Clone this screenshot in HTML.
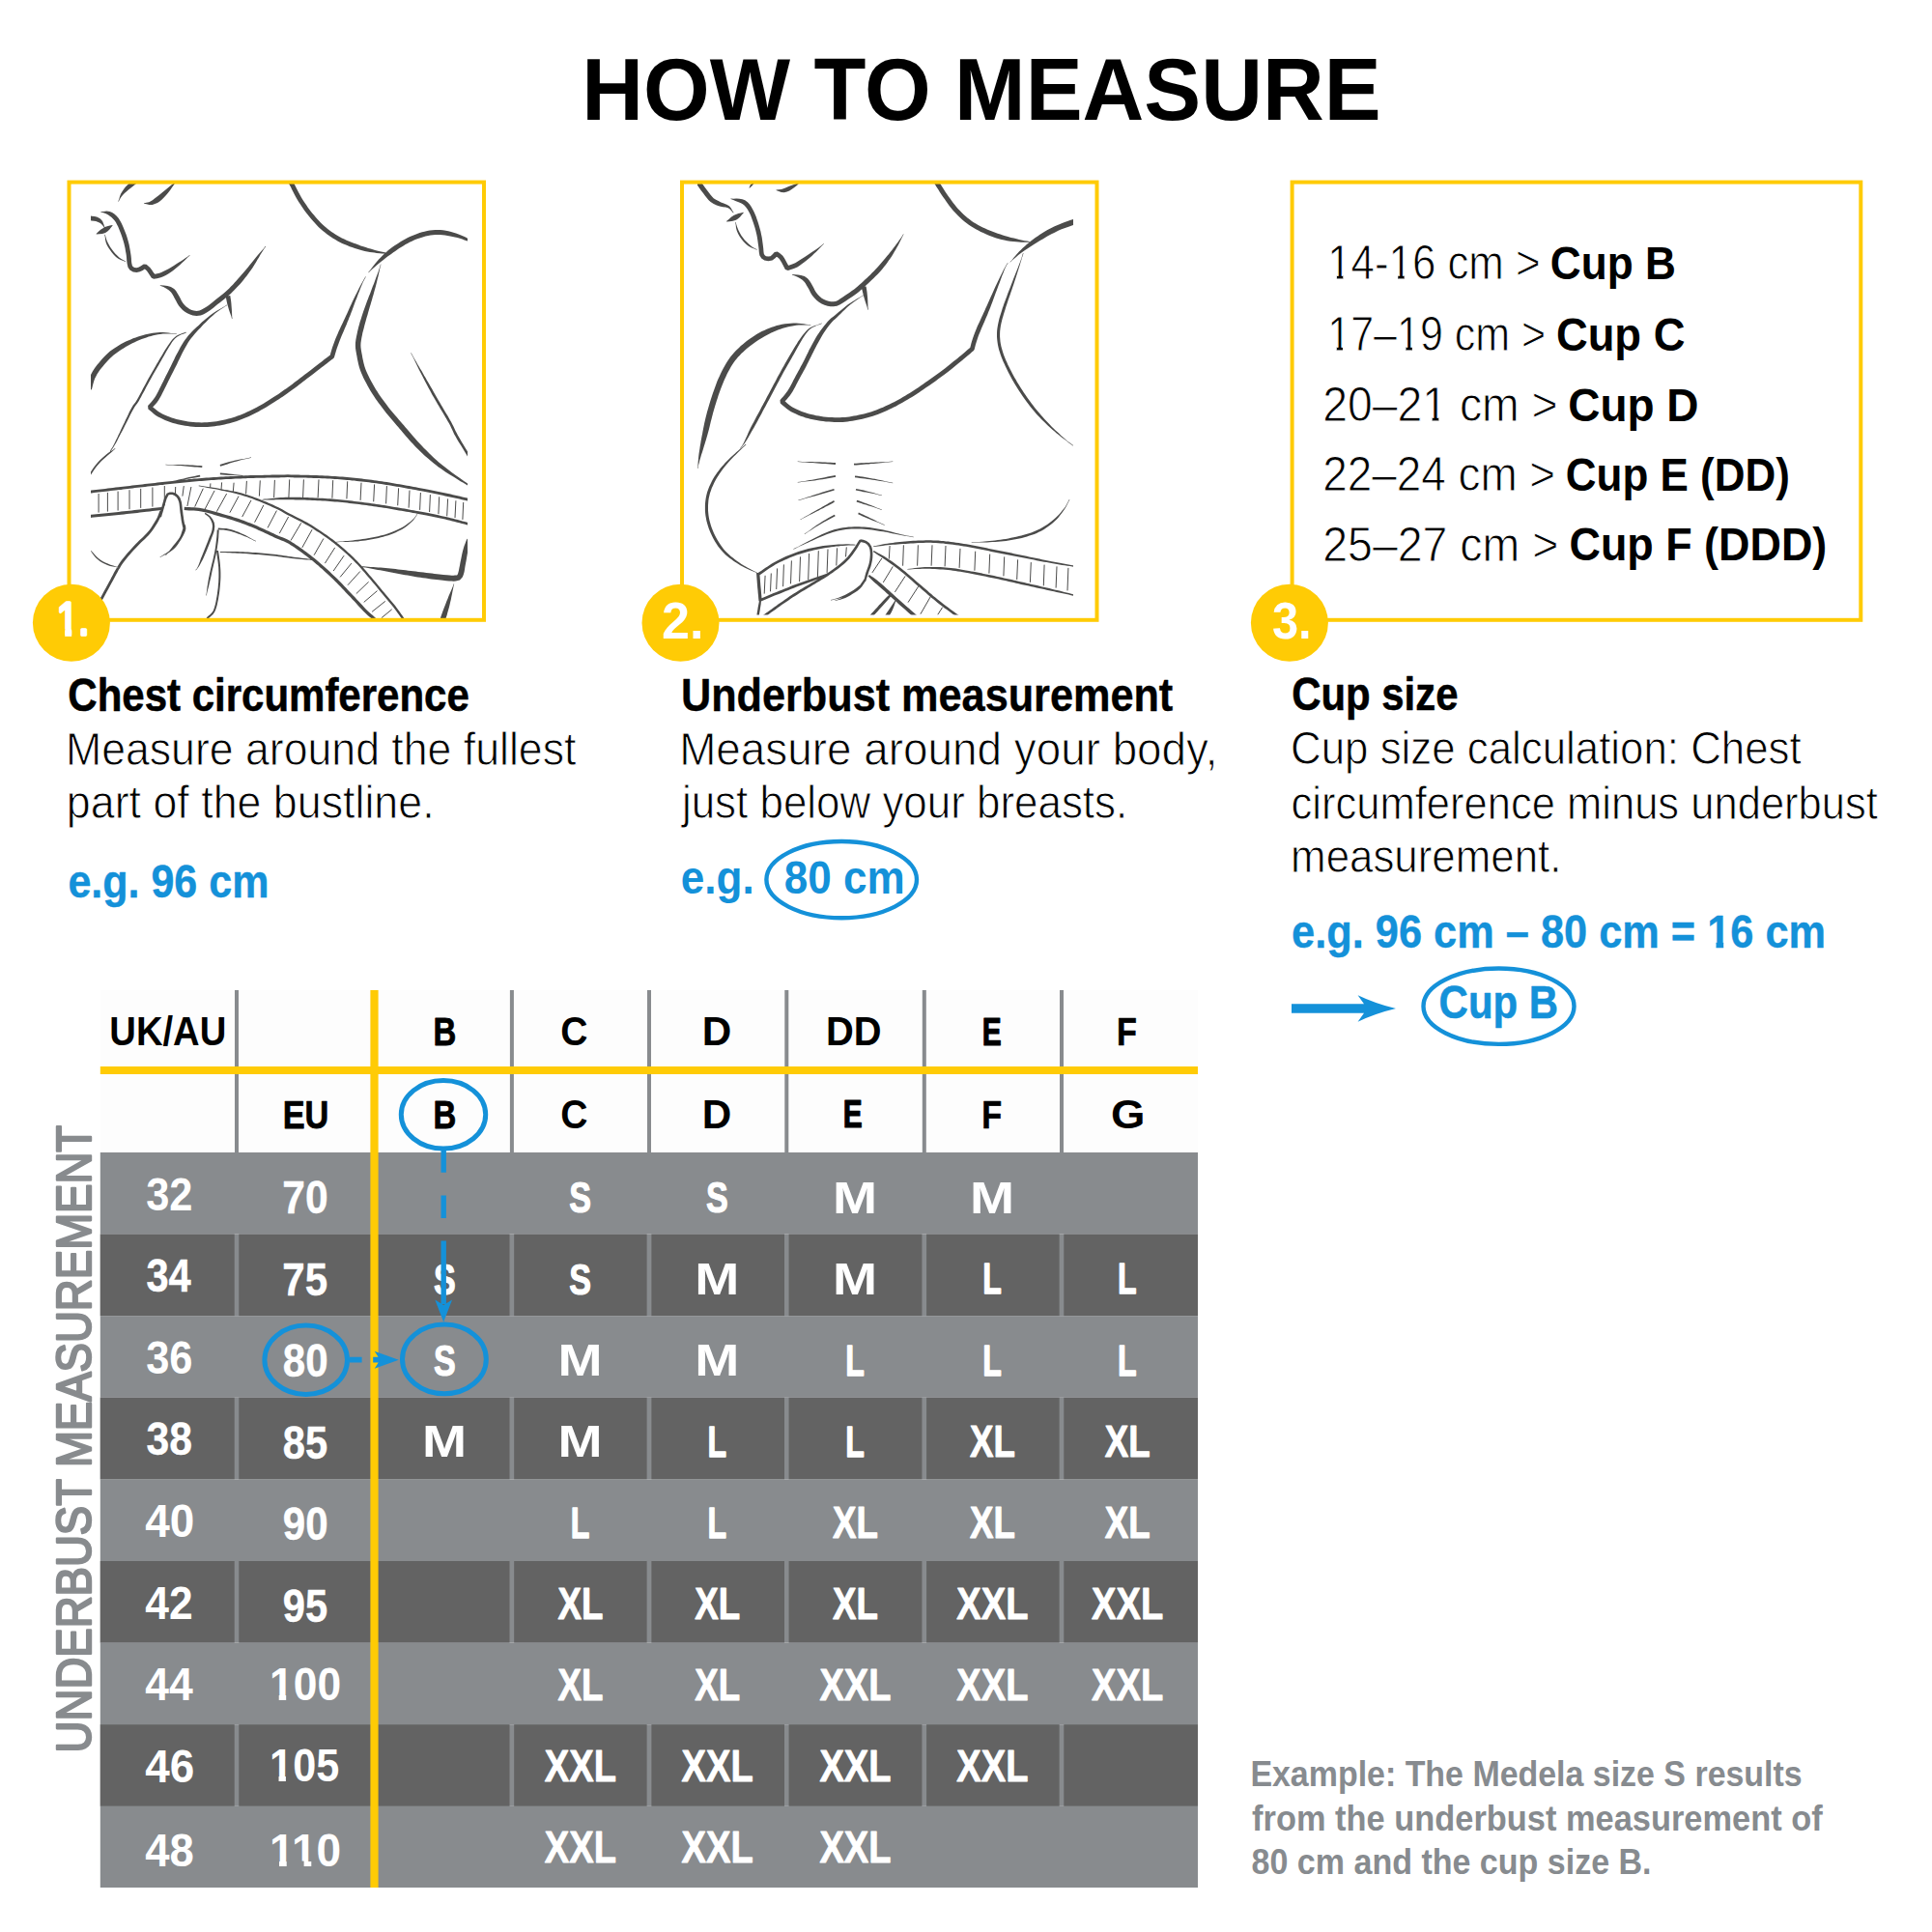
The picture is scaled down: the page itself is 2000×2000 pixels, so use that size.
<!DOCTYPE html>
<html lang="en"><head><meta charset="utf-8"><title>How to measure</title>
<style>
html,body{margin:0;padding:0;background:#fff}
body{width:2000px;height:2000px;overflow:hidden}
svg{display:block}
text{font-family:"Liberation Sans",sans-serif}
</style></head><body>
<svg width="2000" height="2000" viewBox="0 0 2000 2000">
<rect width="2000" height="2000" fill="#fff"/>
<text x="602.26" y="124" font-size="91.5" font-weight="700" fill="#000" textLength="827.4" lengthAdjust="spacingAndGlyphs">HOW TO MEASURE</text>
<clipPath id="c1"><rect x="94" y="190" width="390" height="451"/></clipPath>
<g clip-path="url(#c1)">
<path fill="#4b4b4a" d="M122.8 208.7l1.2 -2.4l1.4 -2.2l1.6 -2l1.9 -2l2.1 -1.9l1.9 -1.7l2.6 -2l2.5 -1.9l2.2 -1.8l2.1 -1.7l-3.2 -3.9l-2.1 1.7l-2.2 1.9l-2.3 2.1l-2.6 2.6l-1.7 2.2l-1.7 2.5l-1.5 2.6l-1 2.6l-.7 2.6l-1 2.5zM149 210.7l2.7 .5l2.8 .7l3.2 0l2.7 -.8l2.6 -1.2l2.3 -1.5l2.1 -1.7l2.5 -2.4l2.3 -2.5l2.1 -2.6l2.1 -2.7l2 -2.9l1.7 -2.4l2.9 -3.9l-.3 -.3l-3.7 3.2l-2.2 1.9l-2.7 2.2l-2.7 2.2l-2.5 2l-2.4 2l-2.5 1.9l-2 1.5l-2 1.6l-1.8 1.4l-1.6 1.2l-2.3 1.1l-2.6 .6l-2.7 .4zM91.9 228.1l2.7 .3l2.6 .3l2 .3l2.5 .9l2.2 1.1l2.1 2l1.9 2.5l.5 -.2l-1 -3.1l-1.3 -3.2l-2.2 -2.5l-3.1 -1.8l-2.8 -.7l-2.9 -.3l-2.7 -.3zM99.8 242.4l3.1 -.2l3.1 -.2l3.1 -1l2.2 -1.4l1.9 -1.9l1.7 -2.2l1.7 -2.1l-.3 -.5l-2.6 .7l-2.7 .6l-2.4 .9l-2 1.1l-2.4 1.6l-2.3 2l-2.3 2.1zM108.3 242.9l.5 2.9l.3 2.9l.8 3.1l1.1 2.4l1.5 2.5l1.6 2.4l1.6 2.2l2.1 2.5l2.2 2.2l2.4 1.8l2.5 1.3l2.6 .8l2.4 1l.2 -.4l-2.4 -1.2l-2.2 -1.3l-2.2 -1.5l-2 -1.9l-2.1 -2.1l-2 -2.4l-1.5 -2.1l-1.6 -2.3l-1.4 -2.4l-1.2 -2.2l-1.1 -2.7l-.9 -2.8l-.7 -2.8zM104.3 219.5l2.8 .8l2.7 .9l2.3 1.3l1.7 1.2l1.7 1.4l1.7 1.6l1.6 1.9l1.2 1.7l1.1 2.1l1.1 2.2l1 2.4l1 2.5l1 2.4l.9 2.5l.8 2.5l.8 2.6l.7 2.5l.6 2.6l.6 2.6l.4 2.7l.5 2.5l.3 2.2l.3 3.2l.2 2.8l.4 2.7l.8 3.4l1.9 2.9l3.4 1.8l3.7 .5l3.3 -.7l2.8 -1.3l3.7 -2.5l-2.9 -.2l3.5 3l1.4 2l1.8 2.7l1.8 2.8l2.3 1.1l3.4 -.5l3.8 -1l2.6 -1.1l2.6 -1.3l2.6 -1.5l2.6 -1.6l2.5 -1.8l2.4 -1.9l2.4 -2.1l2.4 -2.1l2 -1.8l2 -1.9l2 -2l2 -2l2.1 -1.7l-.3 -.4l-2.2 1.7l-2.3 1.5l-2.4 1.6l-2.3 1.5l-2.2 1.4l-2.7 1.7l-2.6 1.7l-2.5 1.6l-2.5 1.4l-2.5 1.3l-2.6 1.3l-2.5 1.1l-2 .8l-3.4 .9l-3.1 .5l2.3 1l-1.8 -2.8l-1.8 -2.8l-1.9 -2.6l-3.7 -3.2l-2.9 -.2l-3.5 2.3l-1.9 .9l-1.9 .5l-2.2 -.3l-1.6 -.8l-.7 -1.2l-.6 -2.5l-.3 -2.2l-.1 -2.8l-.4 -3.4l-.4 -2.4l-.4 -2.5l-.5 -2.8l-.5 -2.7l-.7 -2.8l-.7 -2.6l-.8 -2.7l-.9 -2.7l-1 -2.6l-1 -2.5l-1 -2.5l-1.1 -2.5l-1.2 -2.5l-1.3 -2.3l-1.4 -2.2l-2 -2.3l-2.2 -1.9l-2.3 -1.5l-2.5 -1l-3.3 -.5l-3.1 .4l-2.9 .1zM165.7 295.7l3.5 1.4l3.1 1.7l2.6 1.7l2.1 2l1.1 1.5l1.2 2.1l1.3 2.3l1.4 2.5l1.4 2.8l1.7 2.8l1.9 2.3l2.1 2.2l2.3 1.8l2.5 1.5l2.8 1.3l2.8 .9l4 .5l4.3 -.5l3.2 -1.3l3 -1.8l3.1 -2l2 -1.4l2 -1.6l2 -1.6l2.1 -1.7l2.1 -1.7l2.2 -1.7l2.2 -1.7l2.4 -1.9l2.4 -2l2.4 -2.1l1.9 -1.9l2 -2l1.9 -2l1.9 -2.1l2 -2.1l1.9 -2.2l1.6 -2l1.7 -2.1l1.7 -2.2l1.6 -2.2l1.6 -2.1l1.5 -2.2l1.4 -2l1.8 -2.8l1.6 -2.7l1.5 -2.6l1.5 -2.4l1.3 -2.3l1.6 -2.5l1.4 -2.3l1.3 -2.1l1.6 -2l-.4 -.4l-1.6 2.1l-1.6 1.9l-1.8 2l-2 2.2l-1.7 2.1l-1.8 2.2l-1.8 2.3l-2 2.5l-2.1 2.4l-1.5 1.9l-1.7 2l-1.7 2l-1.7 2l-1.8 2.1l-1.7 1.9l-1.6 1.9l-1.9 2.2l-1.9 2.1l-1.9 2.1l-1.9 1.9l-1.8 1.9l-1.9 1.8l-2.2 2l-2.3 1.9l-2.3 1.8l-2.2 1.7l-2.3 1.7l-2.1 1.8l-2.1 1.7l-1.9 1.6l-1.9 1.4l-1.8 1.3l-2.9 1.9l-2.7 1.5l-2.2 .9l-3 .5l-3 -.5l-2 -.6l-2.2 -1l-2 -1.3l-1.8 -1.4l-1.7 -1.7l-1.6 -2l-1.4 -2.2l-1.3 -2.7l-1.4 -2.7l-1.5 -2.4l-1.5 -2.4l-1.9 -2.1l-3.3 -2l-3.5 -1l-3.8 -.4l-3.8 -.4zM233.7 306.8l.5 2.6l.5 2.6l.6 2.7l.8 2.8l.7 2.4l.8 2.5l.9 2.5l.9 2.6l.6 2.5l.5 0l-.3 -2.7l-.1 -2.7l-.1 -2.7l-.2 -2.6l-.2 -2.5l-.2 -2.8l-.3 -2.7l-.4 -2.6l-.4 -2.7zM234.9 315.5l-2.2 1.4l-2.1 1.3l-2.2 1.3l-2.2 1.2l-2.2 1.4l-2.3 1.4l-2.2 1.6l-2 1.5l-2.1 1.7l-2.2 1.7l-2.1 1.8l-2.1 1.8l-2 1.8l-1.8 1.8l-1.8 1.6l-2.4 2.3l-2.3 2.2l-2 2.1l-1.9 2.2l-1.8 2.3l-1.8 2.4l-1.5 2.3l-1.5 2.4l-1.5 2.6l-1.5 2.8l-1.2 2.3l-1.3 2.4l-1.3 2.5l-1.2 2.6l-1.3 2.6l-1.3 2.6l-1.2 2.5l-1.3 2.5l-1.2 2.5l-1.3 2.6l-1.3 2.5l-1.2 2.5l-1.2 2.4l-1.2 2.4l-1.3 2.6l-1.3 2.6l-1.2 2.4l-1.2 2.3l-1.2 2.2l-1.1 1.9l-1.8 2.5l-1.8 2.1l-1.8 2.1l-1.9 2.1l.3 3.4l1.9 1.5l1.8 1.6l1.9 1.7l2.2 1.6l2.5 1.5l2.2 1.2l2.5 1.2l2.5 1.1l2.7 1.1l2.7 1l2.8 .9l2.4 .6l2.5 .7l2.5 .5l2.6 .6l2.6 .4l2.6 .4l2.6 .3l2.9 .3l3 .2l3 .2l2.9 0l3 0l3 -.2l2.5 -.2l2.6 -.2l2.5 -.3l2.5 -.4l2.6 -.4l2.5 -.5l2.5 -.5l2.6 -.6l2.5 -.6l2.5 -.7l2.6 -.8l2.5 -.8l2.5 -.9l2.6 -.9l2.5 -1l2.5 -1.1l2.5 -1.1l2.5 -1.1l2.5 -1.3l2.5 -1.3l2.6 -1.3l2.3 -1.3l2.4 -1.3l2.3 -1.4l2.4 -1.4l2.3 -1.4l2.4 -1.5l2.4 -1.5l2.3 -1.5l2.1 -1.4l2.1 -1.4l2.1 -1.4l2.1 -1.5l2.1 -1.4l2 -1.5l2.1 -1.5l2.1 -1.5l2.1 -1.5l2.1 -1.6l2.1 -1.6l2.1 -1.6l2.1 -1.6l2.1 -1.7l2.1 -1.6l2.1 -1.6l2 -1.5l2 -1.5l2.2 -1.7l2.2 -1.8l2.3 -1.7l2.2 -1.7l2.1 -1.6l1.9 -1.5l1.7 -1.3l1.5 -1.2l3.2 -2.4l1.9 -1.4l.8 -1.3l.8 -2.8l.8 -2.7l.9 -3.1l.9 -2.6l1.1 -2.9l1.1 -3l1.2 -2.9l.9 -2.3l1 -2.3l1 -2.3l1 -2.4l1 -2.3l1 -2.3l.9 -2.4l1 -2.3l.9 -2.4l1 -2.4l.9 -2.4l1 -2.6l.9 -2.5l.9 -2.5l.9 -2.5l.9 -2.4l1 -2.4l.9 -2.4l.9 -2.4l.9 -2.2l1 -2.6l1 -2.5l1 -2.4l.9 -2.1l1.6 -3.1l1.5 -2.7l-.4 -.2l-1.6 2.6l-1.7 3.1l-1.1 2l-1.2 2.3l-1.3 2.4l-1.2 2.6l-1.1 2.1l-1.1 2.2l-1.2 2.3l-1.1 2.4l-1.1 2.3l-1.1 2.4l-1.2 2.5l-1.1 2.5l-1.1 2.4l-1 2.4l-1.1 2.3l-1.1 2.3l-1.1 2.3l-1 2.2l-1.1 2.3l-1.1 2.3l-1 2.3l-1.1 2.3l-1 2.4l-1 2.3l-1.3 3l-1.1 3l-1.1 3l-1 2.7l-1 3.2l-.8 2.9l-.7 2.8l.8 -1.3l-1.8 1.4l-3.3 2.5l-1.5 1.1l-1.7 1.3l-1.9 1.5l-2.1 1.6l-2.2 1.7l-2.3 1.8l-2.2 1.7l-2.2 1.7l-2 1.5l-2 1.6l-2.1 1.6l-2.1 1.6l-2.1 1.6l-2.1 1.6l-2.1 1.7l-2.1 1.5l-2 1.6l-2.1 1.5l-2.1 1.5l-2 1.5l-2.1 1.4l-2 1.5l-2.1 1.4l-2 1.4l-2.1 1.4l-2 1.3l-2.4 1.5l-2.3 1.5l-2.3 1.5l-2.4 1.4l-2.3 1.4l-2.3 1.3l-2.3 1.3l-2.2 1.2l-2.5 1.3l-2.5 1.3l-2.5 1.2l-2.4 1.1l-2.4 1.1l-2.4 1l-2.4 1l-2.5 .9l-2.4 .8l-2.4 .8l-2.5 .7l-2.4 .7l-2.4 .6l-2.5 .6l-2.4 .5l-2.5 .4l-2.4 .5l-2.4 .3l-2.5 .3l-2.4 .2l-2.4 .2l-2.8 .1l-2.9 .1l-2.8 -.1l-2.8 -.1l-2.9 -.2l-2.8 -.3l-2.4 -.3l-2.5 -.4l-2.5 -.4l-2.5 -.5l-2.4 -.5l-2.4 -.6l-2.3 -.7l-2.6 -.8l-2.5 -.9l-2.6 -1l-2.4 -1.1l-2.2 -1.1l-2.1 -1.1l-2.1 -1.3l-1.9 -1.4l-1.8 -1.6l-1.9 -1.6l-1.9 -1.6l.3 3.4l1.8 -2.1l1.9 -2.1l2 -2.3l1.9 -2.8l1.3 -2.2l1.3 -2.2l1.2 -2.4l1.3 -2.5l1.2 -2.6l1.3 -2.6l1.2 -2.3l1.2 -2.5l1.3 -2.5l1.2 -2.5l1.3 -2.6l1.3 -2.5l1.2 -2.5l1.3 -2.6l1.3 -2.5l1.2 -2.6l1.3 -2.6l1.2 -2.5l1.2 -2.4l1.1 -2.2l1.5 -2.8l1.4 -2.5l1.3 -2.4l1.4 -2.3l1.5 -2.3l1.7 -2.2l1.7 -2.1l1.8 -2.2l2 -2.2l2.3 -2.5l1.6 -1.7l1.7 -1.8l1.8 -2l2 -1.9l1.9 -2l1.9 -1.9l2 -1.8l1.8 -1.6l2.1 -1.8l2 -1.6l2.1 -1.5l2.1 -1.4l2.1 -1.4l2.1 -1.4l2.1 -1.4zM182.9 345.5l-2.9 -.2l-2.8 -.3l-2.9 -.4l-2.8 -.3l-2.9 -.2l-2.9 0l-2.6 .1l-2.5 .3l-2.5 .3l-2.5 .4l-2.5 .5l-2.5 .6l-2.5 .6l-2.6 .8l-2.5 .8l-2.6 .9l-2.6 .9l-2.5 1.1l-2.5 1.1l-2.5 1.1l-2.4 1.2l-2.4 1.3l-2.4 1.3l-2.3 1.5l-2.4 1.5l-2.2 1.5l-2.2 1.7l-2.2 1.9l-2.1 1.9l-2 2.1l-1.9 2.1l-1.9 2.1l-1.6 2l-1.6 1.9l-1.9 2.5l-1.7 2.4l-1.4 2.3l-1.3 2.4l-1.2 2.4l-1 2.6l-.8 2.6l-.7 2.5l-.6 2.4l-.6 2.4l5.3 1.5l.7 -2.5l.6 -2.5l.6 -2.3l.7 -2.3l.8 -2.2l1.1 -2.1l1.1 -2.1l1.3 -2.1l1.5 -2.2l1.8 -2.3l1.5 -1.8l1.6 -1.9l1.8 -2l1.8 -2l1.9 -2l1.9 -1.8l1.9 -1.7l2 -1.6l2.1 -1.5l2.1 -1.5l2.2 -1.4l2.2 -1.4l2.2 -1.3l2.3 -1.3l2.3 -1.2l2.3 -1.3l2.4 -1.1l2.4 -1.1l2.4 -1l2.4 -1l2.4 -.9l2.4 -.8l2.3 -.8l2.4 -.7l2.4 -.6l2.4 -.6l2.4 -.4l2.4 -.4l2.8 -.3l2.8 -.1l2.9 0l2.8 .1l2.9 .2l2.8 .2zM192.7 343.7l-2.5 .9l-2.7 .9l-2.6 1l-2.4 1.3l-2 1.6l-1.7 1.7l-1.8 2.2l-1.9 2.7l-1.4 1.9l-1.3 2.1l-1.5 2.3l-1.5 2.5l-1.5 2.6l-1.6 2.6l-1.5 2.6l-1.2 2.1l-1.3 2.1l-1.2 2.2l-1.3 2.2l-1.3 2.2l-1.3 2.3l-1.3 2.3l-1.3 2.3l-1.3 2.3l-1.3 2.4l-1.3 2.5l-1.4 2.6l-1.4 2.5l-1.3 2.6l-1.3 2.4l-1.3 2.3l-1.1 2l-1 1.8l-1.7 2.7l-1.2 1.6l-1.2 1.6l-1.6 2.7l-1.1 2l-1.2 2.3l-1.2 2.6l-1.3 2.7l-1.3 2.7l-1.3 2.8l-1.3 2.6l-1.2 2.5l-1.3 2.7l-1.2 2.7l-1.3 2.7l-1.2 2.6l-1.2 2.4l-1 2.2l-1 1.9l-1.7 3.3l-1.4 2.1l-1.3 2.1l.6 .4l1.4 -2.1l1.4 -2.1l1.9 -3.1l1.1 -1.9l1.2 -2.2l1.2 -2.4l1.3 -2.6l1.4 -2.6l1.4 -2.7l1.4 -2.6l1.2 -2.5l1.3 -2.6l1.4 -2.7l1.4 -2.7l1.3 -2.7l1.3 -2.5l1.2 -2.3l1 -1.9l1.6 -2.6l1.1 -1.5l1.2 -1.6l1.8 -2.8l1 -1.9l1.2 -2.1l1.2 -2.3l1.3 -2.4l1.4 -2.5l1.3 -2.6l1.4 -2.6l1.4 -2.5l1.2 -2.3l1.3 -2.3l1.3 -2.3l1.3 -2.3l1.3 -2.3l1.3 -2.2l1.3 -2.2l1.2 -2.2l1.2 -2.1l1.2 -2.1l1.5 -2.7l1.5 -2.6l1.5 -2.6l1.4 -2.5l1.4 -2.4l1.3 -2.1l1.2 -1.9l1.8 -2.8l1.6 -2.1l1.6 -1.7l1.8 -1.5l2.2 -1.4l2.4 -1.1l2.6 -.9l2.6 -1.1zM298 188.4l2.1 3.5l.9 1.7l1.1 2.3l1.3 2.6l1.4 2.8l1.6 2.9l1.6 2.7l1.2 2.1l1.4 2l1.3 2.1l1.5 2.2l1.5 2.1l1.5 2.1l1.6 2.1l1.6 2l1.6 2l1.7 2l1.8 2l1.8 2l1.8 1.9l1.9 1.9l2 1.8l2 1.7l2 1.7l2.1 1.6l2.1 1.6l2.2 1.5l2.2 1.4l2.3 1.4l2.3 1.3l2.4 1.3l2.4 1.2l2.6 1.1l2.6 1.1l2.6 1.1l2.6 .9l2.6 .9l2.6 .8l2.4 .7l2.7 .7l2.7 .7l2.7 .5l2.6 .5l2.4 .4l2.3 .3l2.2 .3l3.2 .4l2.6 .2l2.5 .1l2.6 .2l.1 -1l-2.5 -.5l-2.4 -.5l-2.6 -.5l-3.1 -.8l-2 -.6l-2.2 -.6l-2.4 -.7l-2.4 -.7l-2.5 -.8l-2.6 -.8l-2.6 -.9l-2.3 -.9l-2.5 -.9l-2.5 -.9l-2.5 -1l-2.5 -1l-2.5 -1l-2.4 -1.1l-2.4 -1.1l-2.2 -1.2l-2.2 -1.3l-2.1 -1.3l-2.2 -1.4l-2 -1.4l-2 -1.5l-2 -1.5l-2 -1.6l-1.8 -1.6l-1.9 -1.7l-1.8 -1.8l-1.8 -1.9l-1.7 -1.9l-1.7 -1.9l-1.6 -1.9l-1.6 -1.9l-1.6 -2l-1.5 -2l-1.5 -2l-1.4 -2.1l-1.4 -2.1l-1.4 -2l-1.3 -2l-1.2 -2l-1.5 -2.7l-1.5 -2.7l-1.4 -2.8l-1.3 -2.5l-1.1 -2.3l-1 -2l-2.2 -3.6zM381.6 282.3l2 -2.1l2.1 -1.9l2.1 -1.9l2.2 -1.9l2.4 -2l1.9 -1.6l2 -1.5l2.1 -1.7l2.2 -1.6l2.1 -1.6l2.3 -1.6l2.2 -1.6l2 -1.4l2 -1.4l2.1 -1.4l2.2 -1.4l2.1 -1.3l2.2 -1.3l2.1 -1.2l2.1 -1.1l2.4 -1.1l2.4 -1.1l2.4 -1l2.4 -.9l2.4 -.8l2.3 -.7l2.3 -.6l2.6 -.6l2.5 -.4l2.5 -.3l2.5 -.2l2.4 -.1l2.5 .1l2.5 .1l2.6 .3l2.6 .4l2.7 .5l2.5 .5l2.4 .5l2.6 .6l2.5 .8l2.4 .7l2.3 .9l2.3 .8l2.8 1.1l2.8 1.2l2.7 1.3l2.7 1.2l.5 -.9l-2.5 -1.6l-2.5 -1.6l-2.6 -1.6l-2.8 -1.5l-2.2 -1.2l-2.3 -1.1l-2.4 -1.1l-2.5 -1l-2.7 -1l-2.5 -.7l-2.5 -.7l-2.8 -.7l-2.7 -.6l-2.9 -.4l-2.8 -.2l-2.7 -.1l-2.7 .1l-2.7 .2l-2.7 .3l-2.8 .5l-2.8 .6l-2.5 .6l-2.5 .8l-2.5 .9l-2.5 .9l-2.6 1.1l-2.5 1.1l-2.6 1.2l-2.2 1.2l-2.3 1.2l-2.2 1.3l-2.2 1.4l-2.3 1.5l-2.1 1.4l-2.1 1.5l-2 1.5l-2.3 1.8l-2.1 1.8l-2.1 1.9l-2 2l-1.9 1.9l-1.8 1.9l-1.7 1.8l-2.1 2.5l-1.8 2.3l-1.7 2.3l-1.7 2.3l-1.9 2.2zM394 273.6l-.7 2.5l-.8 2.4l-.8 2.4l-.9 2.6l-1 2.6l-.9 2.4l-.9 2.6l-1 2.6l-1.1 2.6l-1 2.8l-1 2.7l-.9 2.4l-1 2.4l-.9 2.4l-1 2.5l-.9 2.5l-.9 2.5l-.9 2.5l-1 2.8l-1 2.9l-.9 2.9l-.9 2.8l-.9 2.7l-.7 2.6l-.8 2.8l-.6 2.6l-.6 2.5l-.5 2.4l-.5 2.2l-.6 3.2l-.4 3l-.1 3l.1 2.8l.4 2.8l.6 3.6l.5 2.3l.4 2.6l.6 2.8l.7 3.1l.8 3.2l1.1 3.2l1 2.5l1.1 2.5l1.2 2.6l1.3 2.6l1.4 2.6l1.4 2.6l1.4 2.6l1.4 2.5l1.4 2.1l1.3 2.2l1.5 2.1l1.4 2.2l1.5 2l1.4 2.1l1.6 2.1l1.5 2l1.5 2l1.7 2.2l1.7 2.1l1.7 2.1l1.7 2l1.7 2.1l1.9 2.1l1.9 2.3l2.1 2.4l1.4 1.7l1.6 1.8l1.6 1.9l1.6 1.9l1.7 2l1.7 2l1.8 2l1.7 2l1.8 2l1.8 1.9l1.7 1.9l1.7 1.8l2.1 2l2 2l2.1 2l2 1.9l2.1 1.8l2.1 1.8l2 1.8l2.1 1.7l2.1 1.7l2 1.6l2.4 1.8l2.4 1.7l2.4 1.7l2.4 1.6l2.4 1.5l2.4 1.5l2.2 1.4l2.1 1.3l1.9 1.2l2.7 1.7l2.3 1.4l2.1 1.2l2 1.2l2 1.1l2.1 1.3l.8 -1.2l-2 -1.4l-1.9 -1.3l-2 -1.3l-2 -1.4l-2.1 -1.5l-2.5 -1.9l-1.9 -1.3l-2 -1.5l-2.1 -1.5l-2.2 -1.7l-2.3 -1.6l-2.2 -1.8l-2.3 -1.8l-2.2 -1.8l-2.2 -1.8l-1.9 -1.7l-2 -1.8l-1.9 -1.7l-2 -1.9l-1.9 -1.8l-1.9 -1.9l-2 -2l-1.9 -1.9l-2 -2.1l-1.9 -2l-1.7 -1.8l-1.6 -1.8l-1.7 -1.9l-1.8 -2l-1.7 -2l-1.7 -2l-1.7 -2l-1.7 -2l-1.6 -1.9l-1.6 -1.9l-1.6 -1.8l-1.5 -1.7l-2 -2.4l-2 -2.3l-1.8 -2.1l-1.7 -2l-1.7 -2l-1.7 -2l-1.6 -2.1l-1.6 -2.1l-1.5 -2l-1.5 -2l-1.5 -2l-1.5 -2l-1.4 -2.1l-1.4 -2l-1.3 -2.1l-1.4 -2.1l-1.2 -2l-1.4 -2.5l-1.4 -2.4l-1.4 -2.6l-1.3 -2.5l-1.2 -2.5l-1.2 -2.5l-1 -2.3l-.9 -2.3l-1 -2.9l-.8 -2.9l-.6 -2.9l-.6 -2.7l-.4 -2.6l-.5 -2.3l-.6 -3.5l-.3 -2.3l-.1 -2.4l.1 -2.5l.4 -2.6l.5 -3.1l.5 -2.1l.4 -2.3l.6 -2.4l.7 -2.5l.7 -2.8l.7 -2.5l.7 -2.7l.8 -2.8l.9 -2.8l.8 -3l.8 -2.8l.7 -2.5l.8 -2.5l.7 -2.6l.8 -2.5l.7 -2.6l.8 -2.5l.6 -2.4l.8 -2.9l.8 -2.8l.7 -2.8l.7 -2.7l.6 -2.6l.7 -2.5l.6 -2.8l.6 -2.6l.5 -2.5l.6 -2.5l.7 -2.4zM425.2 365.4l1.3 2.4l1.3 2.4l1.1 2.4l1.2 2.4l1.2 2.4l1.2 2.5l1.2 2.5l1.3 2.5l1.3 2.7l1.2 2.2l1.1 2.3l1.3 2.4l1.2 2.3l1.3 2.4l1.3 2.5l1.3 2.4l1.3 2.4l1.3 2.4l1.4 2.3l1.3 2.3l1.3 2.3l1.4 2.4l1.4 2.3l1.4 2.4l1.4 2.3l1.4 2.3l1.3 2.3l1.3 2.2l1.2 2l1.1 2l1.1 1.8l1.5 2.8l1.1 2.3l1 2.1l.9 2.1l1.1 2.3l1.5 2.7l1.2 2.1l1.3 2.2l1.4 2.3l1.5 2.4l1.5 2.5l1.5 2.5l1.5 2.5l1.5 2.5l1.5 2.4l2.2 -1.3l-1.4 -2.4l-1.5 -2.5l-1.6 -2.5l-1.5 -2.5l-1.5 -2.5l-1.4 -2.4l-1.4 -2.4l-1.3 -2.2l-1.2 -2l-1.4 -2.7l-1.1 -2.2l-.9 -2l-1 -2.1l-1.2 -2.4l-1.5 -2.9l-1.1 -1.8l-1.1 -2l-1.2 -2.1l-1.3 -2.2l-1.4 -2.2l-1.3 -2.3l-1.4 -2.4l-1.4 -2.3l-1.4 -2.4l-1.4 -2.3l-1.3 -2.3l-1.3 -2.3l-1.4 -2.3l-1.3 -2.4l-1.3 -2.4l-1.4 -2.4l-1.4 -2.3l-1.3 -2.4l-1.4 -2.3l-1.3 -2.3l-1.3 -2.2l-1.2 -2.2l-1.5 -2.6l-1.5 -2.4l-1.4 -2.4l-1.4 -2.4l-1.3 -2.3l-1.4 -2.3l-1.3 -2.3l-1.3 -2.4l-1.3 -2.4zM119.1 464.1l-2.2 1.6l-2.4 1.5l-2.3 1.6l-2.2 1.7l-2 1.7l-2.3 2.1l-2.2 2l-2.1 2.2l-2.1 2.4l-1.6 2.1l-1.6 2.3l-1.6 2.4l-1.5 2.3l-1.6 2.4l1.5 .9l1.5 -2.3l1.6 -2.4l1.5 -2.3l1.6 -2.2l1.6 -2.1l2 -2.3l2 -2.1l2.2 -2l2.3 -2.1l1.9 -1.7l2.1 -1.8l2.1 -1.8l2.1 -1.9l2 -1.8zM171.4 481.2l2.5 .2l2.6 .1l2.5 .1l2.5 .2l2.6 .1l2.5 .2l2.4 .2l2.4 .2l2.6 .2l2.6 .3l2.6 .2l2.5 .2l2.5 .2l2.5 .2l2.5 .2l.2 -1.7l-2.6 -.2l-2.5 -.2l-2.5 -.2l-2.5 -.1l-2.6 -.2l-2.6 -.1l-2.6 -.1l-2.4 -.1l-2.5 0l-2.5 0l-2.5 -.1l-2.6 0l-2.5 0l-2.5 -.1l-2.6 -.1zM228.1 482.7l2.5 -.8l2.4 -.7l2.5 -.8l2.4 -.8l2.5 -.8l2.6 -.7l2.3 -.7l2.4 -.6l2.4 -.7l2.5 -.6l2.5 -.6l2.5 -.5l2.5 -.6l-.2 -.5l-2.4 .6l-2.5 .5l-2.5 .5l-2.5 .4l-2.5 .5l-2.4 .5l-2.4 .5l-2.7 .6l-2.5 .7l-2.5 .7l-2.5 .7l-2.4 .8l-2.5 .7zM227.8 491.3l3 .2l3.1 .3l3.1 .1l3 .1l2.9 .1l2.8 0l2.9 .1l2.8 .2l0 -.5l-2.8 -.2l-2.8 -.2l-2.9 -.3l-2.9 -.4l-2.9 -.3l-3.1 -.4l-3 -.3l-3.1 -.2zM177.2 498.8l2.6 -.5l2.7 -.5l2.7 -.5l2.6 -.4l2.6 -.4l2.6 -.4l2.9 -.5l2.9 -.6l2.9 -.5l2.8 -.5l2.8 -.6l-.3 -1.7l-2.9 .6l-2.8 .6l-2.8 .6l-2.8 .6l-3 .7l-2.5 .6l-2.6 .6l-2.6 .6l-2.6 .7l-2.7 .5l-2.6 .5zM92.3 510.7l2.5 -.3l2.5 -.3l2.4 -.3l2.4 -.2l2.4 -.3l2.4 -.3l2.5 -.3l2.5 -.3l2.6 -.3l2.7 -.3l2.8 -.3l3 -.4l2.2 -.2l2.3 -.3l2.4 -.3l2.4 -.3l2.4 -.3l2.6 -.3l2.5 -.3l2.6 -.3l2.6 -.3l2.6 -.3l2.7 -.3l2.6 -.3l2.6 -.3l2.7 -.3l2.6 -.3l2.5 -.3l2.6 -.3l2.5 -.2l2.5 -.3l2.5 -.3l2.6 -.3l2.5 -.2l2.5 -.3l2.5 -.3l2.5 -.2l2.5 -.3l2.6 -.2l2.5 -.3l2.5 -.2l2.5 -.3l2.5 -.2l2.6 -.2l2.5 -.2l2.5 -.2l2.5 -.2l2.5 -.2l2.5 -.2l2.6 -.2l2.5 -.2l2.5 -.1l2.5 -.2l2.5 -.2l2.5 -.1l2.6 -.2l2.5 -.1l2.5 -.1l2.5 -.2l2.5 -.1l2.6 -.1l2.5 -.1l2.5 -.1l2.6 -.1l2.6 -.1l2.8 -.1l2.8 -.1l2.9 -.1l2.8 0l2.9 -.1l2.8 0l2.8 -.1l2.7 -.1l2.6 0l2.5 0l2.4 -.1l2.2 0l2 -.1l1.8 0l1.6 0l3.6 -.2l3.5 .2l1.6 0l1.8 .1l2 0l2.2 .1l2.4 0l2.5 .1l2.6 0l2.7 .1l2.8 .1l2.8 .1l2.9 0l2.8 .1l2.9 .2l2.8 .1l2.8 .1l2.6 .2l2.6 .1l2.5 .2l2.5 .2l2.5 .2l2.6 .2l2.5 .2l2.5 .2l2.5 .2l2.5 .3l2.5 .2l2.5 .3l2.6 .3l2.5 .2l2.5 .3l2.5 .3l2.5 .3l2.5 .4l2.6 .3l2.5 .3l2.6 .4l2.6 .4l2.6 .4l2.7 .4l2.6 .4l2.7 .5l2.6 .4l2.6 .5l2.6 .4l2.6 .5l2.5 .4l2.4 .5l2.4 .4l2.4 .4l2.2 .4l2.1 .4l3.2 .6l2.9 .5l2.8 .6l2.6 .5l2.6 .5l2.4 .5l2.4 .5l2.4 .5l2.4 .5l2.4 .5l2.5 .5l2.5 .6l2.5 .5l2.5 .5l2.4 .6l2.5 .5l2.4 .6l2.5 .5l2.4 .6l2.5 .5l2.4 .6l2.5 .5l.6 -2.8l-2.4 -.5l-2.5 -.6l-2.4 -.5l-2.5 -.6l-2.4 -.5l-2.5 -.6l-2.4 -.5l-2.5 -.6l-2.5 -.5l-2.5 -.5l-2.5 -.6l-2.5 -.5l-2.4 -.5l-2.4 -.5l-2.4 -.5l-2.4 -.5l-2.5 -.5l-2.5 -.5l-2.7 -.5l-2.8 -.6l-2.9 -.5l-3.1 -.6l-2.2 -.4l-2.2 -.4l-2.4 -.4l-2.3 -.4l-2.5 -.5l-2.5 -.4l-2.6 -.5l-2.6 -.4l-2.6 -.5l-2.7 -.4l-2.6 -.5l-2.7 -.4l-2.6 -.4l-2.7 -.4l-2.6 -.4l-2.6 -.4l-2.6 -.3l-2.5 -.4l-2.5 -.3l-2.5 -.3l-2.6 -.3l-2.5 -.3l-2.5 -.3l-2.6 -.3l-2.5 -.2l-2.5 -.3l-2.5 -.2l-2.6 -.3l-2.5 -.2l-2.5 -.2l-2.5 -.2l-2.6 -.2l-2.5 -.2l-2.5 -.1l-2.6 -.2l-2.7 -.2l-2.8 -.1l-2.8 -.1l-2.9 -.1l-2.8 -.1l-2.9 -.1l-2.8 -.1l-2.8 -.1l-2.7 0l-2.7 -.1l-2.5 0l-2.3 -.1l-2.2 0l-2 -.1l-1.8 0l-1.6 -.1l-3.6 -.1l-3.7 .1l-1.5 .1l-1.8 0l-2.1 0l-2.2 .1l-2.3 0l-2.5 0l-2.6 .1l-2.8 0l-2.7 .1l-2.9 .1l-2.8 0l-2.9 .1l-2.9 .1l-2.8 0l-2.8 .1l-2.6 .1l-2.6 .1l-2.6 .1l-2.5 .1l-2.5 .2l-2.5 .1l-2.6 .1l-2.5 .2l-2.5 .1l-2.5 .1l-2.5 .2l-2.6 .1l-2.5 .2l-2.5 .2l-2.5 .1l-2.6 .2l-2.5 .2l-2.5 .2l-2.5 .2l-2.6 .2l-2.5 .2l-2.5 .2l-2.5 .3l-2.6 .2l-2.5 .3l-2.5 .2l-2.5 .3l-2.6 .2l-2.5 .3l-2.5 .3l-2.5 .2l-2.6 .3l-2.5 .3l-2.5 .2l-2.5 .3l-2.5 .3l-2.6 .3l-2.6 .3l-2.6 .3l-2.6 .3l-2.6 .3l-2.7 .3l-2.6 .3l-2.6 .3l-2.6 .3l-2.6 .3l-2.6 .3l-2.5 .3l-2.5 .3l-2.4 .3l-2.3 .3l-2.3 .2l-2.2 .3l-3 .3l-2.8 .4l-2.7 .3l-2.6 .3l-2.6 .3l-2.4 .3l-2.4 .2l-2.4 .3l-2.4 .3l-2.4 .3l-2.5 .3l-2.5 .3zM92.3 536.1l2.6 -.3l2.5 -.2l2.6 -.3l2.6 -.2l2.6 -.3l2.6 -.3l2.6 -.2l2.5 -.3l2.6 -.3l2.5 -.2l2.5 -.3l2.5 -.2l2.7 -.3l2.8 -.3l2.8 -.3l2.8 -.3l2.8 -.3l2.7 -.3l2.6 -.3l2.6 -.3l2.4 -.3l2.3 -.2l2.1 -.3l3.4 -.4l2.9 -.3l2.5 -.3l2.3 -.3l2.4 -.2l2.5 -.3l-.4 -3.1l-2.5 .3l-2.3 .3l-2.4 .2l-2.5 .3l-2.9 .4l-3.3 .4l-2.2 .2l-2.2 .2l-2.5 .3l-2.5 .3l-2.7 .3l-2.7 .3l-2.7 .3l-2.8 .3l-2.8 .3l-2.8 .3l-2.7 .3l-2.5 .3l-2.5 .2l-2.5 .3l-2.6 .2l-2.5 .3l-2.6 .3l-2.6 .2l-2.6 .3l-2.6 .3l-2.6 .2l-2.5 .3l-2.6 .2zM271.4 517.4l2.5 0l2.4 0l2.4 0l2.3 0l2.3 0l2.4 -.1l2.4 0l2.4 0l2.6 0l2.6 0l2.8 0l2.9 0l2.2 0l2.3 .1l2.3 0l2.4 .1l2.5 0l2.5 .1l2.5 .1l2.6 .1l2.6 .1l2.6 .1l2.7 .2l2.6 .1l2.7 .2l2.6 .1l2.6 .2l2.5 .2l2.6 .2l2.5 .2l2.5 .2l2.5 .2l2.5 .3l2.6 .2l2.5 .3l2.5 .3l2.5 .3l2.5 .3l2.5 .3l2.5 .3l2.6 .3l2.5 .4l2.5 .3l2.5 .4l2.5 .3l2.6 .4l2.5 .3l2.6 .4l2.6 .4l2.6 .4l2.7 .4l2.6 .5l2.7 .4l2.6 .5l2.7 .4l2.5 .5l2.6 .4l2.5 .4l2.5 .5l2.4 .4l2.3 .4l2.2 .4l2.2 .4l3.1 .6l2.9 .5l2.8 .5l2.7 .5l2.5 .5l2.4 .5l2.4 .5l2.4 .5l2.4 .5l2.4 .5l2.5 .6l2.5 .6l2.5 .6l2.5 .6l2.4 .6l2.5 .6l2.4 .7l2.5 .6l2.4 .6l2.5 .7l2.4 .6l2.5 .7l.6 -2.6l-2.4 -.6l-2.5 -.7l-2.4 -.6l-2.5 -.6l-2.4 -.7l-2.5 -.6l-2.4 -.7l-2.5 -.6l-2.5 -.6l-2.5 -.6l-2.5 -.6l-2.5 -.5l-2.5 -.6l-2.4 -.5l-2.3 -.5l-2.5 -.5l-2.4 -.5l-2.5 -.5l-2.7 -.5l-2.8 -.5l-2.9 -.5l-3.2 -.6l-2.1 -.4l-2.3 -.4l-2.3 -.4l-2.4 -.4l-2.4 -.5l-2.5 -.4l-2.6 -.4l-2.6 -.5l-2.6 -.4l-2.7 -.5l-2.6 -.4l-2.7 -.5l-2.7 -.4l-2.6 -.4l-2.6 -.4l-2.6 -.4l-2.6 -.3l-2.5 -.4l-2.5 -.4l-2.5 -.3l-2.6 -.3l-2.5 -.4l-2.5 -.3l-2.5 -.3l-2.6 -.3l-2.5 -.3l-2.5 -.3l-2.5 -.3l-2.6 -.3l-2.5 -.2l-2.5 -.3l-2.6 -.2l-2.5 -.2l-2.5 -.3l-2.6 -.2l-2.5 -.1l-2.7 -.2l-2.6 -.2l-2.6 -.1l-2.7 -.2l-2.6 -.1l-2.7 -.1l-2.6 -.1l-2.6 -.1l-2.6 -.1l-2.5 -.1l-2.4 -.1l-2.4 0l-2.4 -.1l-2.3 0l-2.2 0l-2.9 0l-2.8 .1l-2.7 .1l-2.6 .2l-2.4 .1l-2.4 .3l-2.4 .2l-2.3 .2l-2.3 .3l-2.3 .2l-2.4 .2l-2.5 .3zM205.7 503.2l2.9 .5l3.1 .6l3.1 .6l3 .5l2.7 .5l2.2 .4l3.8 .8l3.4 .8l2.4 .4l2.8 .6l3 .6l3 .7l3 .7l2.8 .8l2.8 .8l2.9 .9l2.8 .9l2.8 1l2.4 .8l2.4 .9l2.3 .9l2.4 .9l2.4 1l2.3 1l2.4 1l2.4 1l2.4 1l2.4 1.1l2.4 1l2.2 1.1l2.6 1.3l2.3 1.3l2.4 1.3l2.6 1.5l3 1.6l2.1 1.1l2.3 1.2l2.5 1.2l2.5 1.3l2.6 1.3l2.6 1.4l2.5 1.4l2.5 1.4l2.2 1.3l2.3 1.4l2.2 1.4l2.2 1.5l2.3 1.4l2.2 1.5l2.1 1.5l2.1 1.4l1.9 1.4l2.4 1.7l2.2 1.6l2.1 1.6l2 1.7l2 1.6l2 1.7l2.1 1.7l1.8 1.6l1.9 1.6l1.8 1.7l1.8 1.6l1.9 1.8l1.8 1.7l1.8 1.8l1.8 1.9l1.9 1.9l1.8 2l1.8 2l1.8 2.1l1.9 2.2l1.8 2.1l1.9 2.2l1.8 2.1l1.7 2l1.6 2l1.8 2.1l1.7 2l1.7 2.1l1.6 2l1.7 2l1.5 1.8l1.4 1.7l1.9 2.3l1.7 2l1.6 1.9l1.5 1.8l1.5 1.8l1.6 2.1l1.5 1.9l1.5 1.9l1.4 2.1l1.5 2.1l1.5 2.1l1.5 2.1l1.5 2l1.9 -1.3l-1.5 -2.1l-1.5 -2.1l-1.5 -2.1l-1.5 -2.1l-1.5 -2l-1.5 -2l-1.4 -2l-1.7 -2l-1.5 -1.9l-1.5 -1.8l-1.6 -1.9l-1.7 -2l-1.9 -2.2l-1.4 -1.8l-1.6 -1.8l-1.6 -1.9l-1.6 -2.1l-1.7 -2l-1.8 -2.1l-1.7 -2.1l-1.7 -2l-1.6 -2l-1.9 -2.1l-1.8 -2.2l-1.9 -2.1l-1.8 -2.2l-1.9 -2.1l-1.8 -2.1l-1.9 -2l-1.8 -1.9l-1.9 -1.9l-1.8 -1.8l-1.9 -1.8l-1.8 -1.7l-1.9 -1.7l-1.8 -1.7l-1.9 -1.6l-1.8 -1.6l-2.1 -1.8l-2 -1.7l-2 -1.6l-2.1 -1.7l-2.1 -1.6l-2.3 -1.7l-2.3 -1.7l-2 -1.4l-2.1 -1.4l-2.1 -1.5l-2.2 -1.5l-2.3 -1.5l-2.3 -1.4l-2.2 -1.5l-2.3 -1.4l-2.2 -1.3l-2.5 -1.5l-2.6 -1.4l-2.6 -1.3l-2.6 -1.4l-2.6 -1.2l-2.4 -1.3l-2.3 -1.1l-2.2 -1.1l-2.9 -1.6l-2.6 -1.5l-2.4 -1.3l-2.4 -1.3l-2.5 -1.3l-2.4 -1.1l-2.3 -1.1l-2.4 -1.1l-2.5 -1l-2.4 -1.1l-2.4 -.9l-2.4 -1l-2.4 -.9l-2.4 -1l-2.4 -.8l-2.4 -.9l-2.4 -.8l-2.9 -1l-2.8 -.8l-2.9 -.9l-2.9 -.8l-2.9 -.7l-3 -.6l-3.1 -.6l-3.1 -.6l-2.8 -.4l-2.4 -.5l-3.4 -.6l-3.7 -.7l-2.3 -.4l-2.7 -.4l-3 -.4l-3.1 -.5l-3.1 -.4l-3 -.5zM190.6 528.1l2.5 .1l2.5 .2l2.5 .1l2.5 .1l2.5 .2l2.5 .3l2.7 .4l2.5 .5l2.6 .6l2.8 .7l2.9 .8l2.8 .8l2.7 .8l2.6 .8l2.4 .7l3.3 .9l2.9 .8l2.6 .8l2.6 .8l2.8 .9l2.3 .8l2.4 .9l2.4 .8l2.3 .9l2.4 .9l2.4 1l2.3 .9l2.4 1l2.4 1l2.3 1.1l2.4 1l2.4 1.1l2.4 1.1l2.4 1.1l2.4 1.2l2.4 1.1l2.3 1.1l2.4 1.1l2.6 1.1l2.2 .8l2.3 .9l2.5 1.1l3.1 1.7l1.6 1.1l1.8 1.1l2 1.3l2 1.4l2.1 1.5l2.2 1.5l2.1 1.6l2.2 1.6l2.2 1.6l2.1 1.6l2 1.6l2 1.6l2 1.7l2 1.6l2 1.7l2 1.8l2 1.7l2 1.8l1.9 1.8l2 1.8l1.9 1.8l1.8 1.8l1.9 1.7l1.9 1.9l1.8 1.9l1.9 1.8l1.8 1.9l1.8 1.9l1.8 1.9l1.7 1.8l1.7 1.8l1.7 1.8l1.6 1.6l2.1 2.3l2.1 2.2l2 2.2l1.9 2.1l1.9 2l1.7 1.9l1.6 1.7l1.6 1.5l2.5 2.5l2 1.7l1.7 1.4l1.5 1.3l2.7 2.5l2.3 2.1l2.2 -2.4l-2.3 -2.2l-2.7 -2.4l-1.6 -1.4l-1.6 -1.4l-2 -1.7l-2.4 -2.3l-1.5 -1.5l-1.6 -1.7l-1.7 -1.9l-1.9 -2l-1.9 -2.1l-2 -2.1l-2.1 -2.3l-2.1 -2.2l-1.6 -1.7l-1.7 -1.7l-1.7 -1.8l-1.7 -1.9l-1.8 -1.9l-1.8 -1.9l-1.9 -1.9l-1.8 -1.9l-1.9 -1.9l-1.9 -1.8l-1.9 -1.8l-1.9 -1.8l-1.9 -1.8l-1.9 -1.8l-2 -1.8l-2 -1.8l-2 -1.8l-2 -1.7l-2 -1.8l-2 -1.7l-2.1 -1.6l-2 -1.7l-2.1 -1.6l-2.1 -1.6l-2.2 -1.7l-2.2 -1.6l-2.2 -1.6l-2.2 -1.5l-2.1 -1.5l-2.1 -1.4l-2 -1.3l-1.8 -1.2l-1.8 -1.1l-3.2 -1.8l-2.7 -1.3l-2.4 -.9l-2.3 -.8l-2.4 -1l-2.3 -1.1l-2.3 -1.1l-2.4 -1.1l-2.4 -1.2l-2.5 -1.1l-2.4 -1.1l-2.4 -1.1l-2.3 -1l-2.4 -1.1l-2.4 -1l-2.4 -1l-2.4 -1l-2.4 -.9l-2.4 -1l-2.4 -.9l-2.4 -.8l-2.4 -.9l-2.4 -.8l-2.8 -.9l-2.6 -.8l-2.7 -.8l-2.9 -.9l-3.4 -.9l-2.3 -.7l-2.6 -.7l-2.7 -.8l-2.8 -.9l-2.9 -.7l-2.9 -.8l-2.7 -.6l-2.6 -.6l-2.8 -.4l-2.7 -.3l-2.6 -.2l-2.5 -.1l-2.5 -.1l-2.5 -.2l-2.5 -.1zM167 535.4l.8 -2.8l.8 -2.7l.8 -2.7l.7 -2.5l.9 -3.2l.9 -3l.7 -2.2l1.9 -3.7l1.7 -.5l2.1 -.1l2.3 .9l2 1.6l1.4 2l1.2 3.2l.4 2.1l.3 2.7l.3 2.9l.3 2.8l.4 2.6l.4 2.6l.3 2.6l.4 2.2l.7 3.5l.7 3l2.6 -.6l-.7 -2.9l-.7 -3.4l-.4 -2.2l-.3 -2.5l-.4 -2.6l-.3 -2.7l-.4 -2.7l-.3 -2.9l-.3 -2.8l-.5 -2.5l-1.3 -3.6l-1.9 -2.6l-2.6 -2.1l-3.1 -1.2l-3.2 .1l-3 1.3l-2.4 4.4l-.8 2.6l-.9 2.9l-.9 3.2l-.8 2.5l-.7 2.7l-.9 2.8l-.8 2.7zM165.5 528.8l-.9 2.2l-.8 2.2l-.9 2.2l-1.3 2.5l-1.1 1.9l-1.2 2l-1.4 2.2l-1.4 2.2l-1.6 2.2l-1.7 2.1l-1.6 1.8l-1.7 1.8l-1.9 1.8l-1.9 1.8l-2 1.9l-1.9 1.8l-1.8 1.9l-2.1 2.2l-2 2.2l-2 2.2l-1.9 2.2l-1.9 2.1l-1.6 2l-2.1 2.6l-1.7 2.3l-1.7 2.4l-1.8 2.9l-1.1 2l-1.2 2.1l-1.3 2.3l-1.2 2.4l-1.3 2.3l-1.2 2.4l-1.3 2.3l-1.2 2.2l-1.2 2.3l-1.2 2.2l-1.3 2.3l-1.2 2.2l-1.2 2.3l-1.2 2.2l-1.5 2.5l-1.4 2.5l-1.4 2.5l-1.4 2.5l-1.5 2.5l-1.4 2.5l2.5 1.4l1.4 -2.5l1.4 -2.5l1.5 -2.5l1.4 -2.5l1.4 -2.5l1.5 -2.5l1.2 -2.2l1.2 -2.3l1.2 -2.2l1.3 -2.3l1.2 -2.3l1.2 -2.2l1.2 -2.3l1.3 -2.3l1.2 -2.3l1.3 -2.4l1.2 -2.3l1.3 -2.3l1.1 -2.1l1.2 -1.9l1.7 -2.8l1.6 -2.3l1.7 -2.2l2 -2.6l1.6 -1.9l1.8 -2.1l1.9 -2.2l2 -2.2l2 -2.2l2.1 -2.1l1.7 -1.8l1.9 -1.9l1.9 -1.8l2 -1.8l1.9 -1.9l1.8 -1.9l1.7 -1.9l1.8 -2.2l1.6 -2.3l1.5 -2.2l1.4 -2.3l1.3 -2.1l1.1 -1.9l1.4 -2.7l1 -2.4l.8 -2.2l.9 -2.2zM189.7 546.1l-.8 2.5l-.8 2.5l-.8 2.5l-1.1 2.3l-1.5 2.3l-1.7 2.2l-1.8 2.4l-1.9 2.3l-1.5 2l-1.6 1.9l-1.6 2l-1.6 2l-1.8 1.8l.4 .4l1.7 -1.9l1.9 -1.7l1.9 -1.8l1.8 -1.7l1.8 -1.8l2 -2.2l2 -2.3l1.8 -2.4l1.6 -2.4l1.2 -2.6l.9 -2.6l.8 -2.5l.8 -2.5zM188.7 540.3l1.1 2.2l1 2.1l.2 2.5l-.5 1.8l-.9 2.3l-1.2 2.3l-1.3 2.4l-1.3 2.3l-1.3 2.1l-1.4 2l-1.5 2l-1.7 1.9l-1.8 1.8l-1.8 1.5l-2 1.4l-2.1 1.5l-2.2 1.4l-2.2 1.5l-2.2 1.3l.2 .5l2.2 -1.4l2.4 -1.2l2.3 -1.2l2.3 -1.3l2.1 -1.4l2 -1.5l2 -1.9l1.7 -2l1.5 -2l1.4 -2.1l1.4 -2.1l1.3 -2.3l1.4 -2.4l1.2 -2.5l.9 -2.4l.5 -2.2l-.3 -2.9l-1.1 -2.4l-1.2 -2.2zM211.8 532l2.5 1.7l2.2 1.9l1.8 2.9l1.3 3.2l.4 3.1l-.5 3.6l-.5 2l-.8 2.3l-1.1 2.6l-1.1 2.8l-.8 2.2l-.9 2.3l-1 2.5l-1 2.5l-1 2.4l-1 2.4l-1.1 2.8l-1.2 2.9l-1 2.8l-.9 2.5l-.8 2.1l-1.5 2.9l-1.4 1.7l.4 .3l1.4 -1.7l2 -2.7l1.1 -2l1.3 -2.4l1.4 -2.7l1.3 -2.8l1.2 -2.8l1 -2.3l1 -2.5l1 -2.5l1 -2.5l.9 -2.3l.9 -2.2l1.1 -2.9l1 -2.5l.9 -2.5l.6 -2.3l.4 -4l-.5 -3.7l-1.7 -3.6l-2.3 -3.1l-2.6 -2l-2.7 -1.6zM224.7 548.5l-.1 2.4l-.1 2.3l-.2 2.5l-.3 2.8l-.3 2.5l-.3 2.6l-.4 2.9l-.5 3l-.6 3.2l-.5 2.4l-.6 2.6l-.6 2.7l-.7 2.7l-.7 2.8l-.6 2.7l-.6 2.6l-.6 2.6l-.5 2.7l-.6 2.7l-.4 2.6l-.4 2.4l-.4 2.3l-.3 2l-.4 3.3l-.3 2.3l-.4 2.3l.5 .1l.4 -2.3l.5 -2.3l.9 -3.2l.5 -1.9l.5 -2.2l.6 -2.5l.6 -2.5l.6 -2.7l.6 -2.7l.5 -2.6l.6 -2.6l.7 -2.7l.6 -2.7l.7 -2.8l.6 -2.7l.6 -2.6l.5 -2.5l.6 -3.2l.5 -3l.4 -2.9l.4 -2.7l.3 -2.5l.3 -2.8l.1 -2.5l.2 -2.4l.1 -2.4zM224 570.1l.4 2.9l.4 2.9l.4 2.9l.4 2.9l.3 2.8l.3 2.7l.1 2.7l.1 2.6l0 2.5l0 2.5l-.1 2.6l-.1 2.7l-.3 2.8l-.2 2.9l-.4 3l-.4 2.9l-.4 2.8l-.5 2.6l-.5 2.9l-.6 2.8l-.7 2.5l-.7 2.3l-.9 2.1l-1.5 2.1l-1.7 1.7l-1.9 1.6l-1.9 1.8l1.4 1.4l1.8 -1.7l2 -1.7l1.9 -1.9l1.6 -2.4l1 -2.2l.8 -2.5l.7 -2.7l.6 -2.8l.6 -2.9l.4 -2.7l.5 -2.8l.4 -3l.3 -3l.3 -2.9l.2 -2.9l.2 -2.7l.1 -2.6l0 -2.6l0 -2.6l-.1 -2.6l-.2 -2.7l-.2 -2.8l-.3 -2.9l-.4 -2.9l-.4 -2.9l-.4 -2.9l-.4 -2.8zM225.7 548.3l2.8 .2l2.7 .1l2.8 .3l3 .5l2.1 .6l2.3 .7l2.5 .8l2.4 .9l2.5 .9l2.3 .9l2.4 1l2.3 .9l2.3 1.1l2.3 1l2.2 1.2l2.3 1.1l.2 -.4l-2.2 -1.2l-2.3 -1.2l-2.2 -1.2l-2.2 -1.3l-2.2 -1.2l-2.3 -1.1l-2.4 -1l-2.4 -1.1l-2.5 -.9l-2.4 -.8l-2.4 -.8l-2.3 -.6l-3.1 -.6l-2.9 -.2l-2.7 -.2l-2.8 -.1zM227.8 571.9l2.6 .1l2.6 .1l2.5 .1l2.5 .1l2.6 .1l2.6 .1l2.6 .2l2.8 .1l2.8 .2l2.4 .1l2.6 .2l2.6 .2l2.7 .2l2.7 .2l2.7 .2l2.8 .2l2.6 .2l2.6 .2l2.5 .2l2.3 .3l3 .3l2.8 .3l2.7 .4l2.6 .4l2.6 .3l2.5 .4l2.6 .3l2.6 .4l2.7 .2l2.7 .3l2.7 .2l2.7 .3l2.7 .2l2.6 .2l2.7 .2l2.7 .3l.1 -.9l-2.7 -.3l-2.6 -.4l-2.7 -.3l-2.7 -.3l-2.7 -.4l-2.6 -.3l-2.7 -.3l-2.7 -.4l-2.6 -.3l-2.5 -.4l-2.6 -.4l-2.5 -.4l-2.6 -.3l-2.7 -.4l-2.9 -.4l-3 -.3l-2.4 -.2l-2.5 -.2l-2.5 -.3l-2.7 -.2l-2.7 -.2l-2.8 -.2l-2.7 -.2l-2.7 -.2l-2.6 -.1l-2.6 -.2l-2.4 -.1l-2.9 -.1l-2.7 -.1l-2.7 0l-2.6 -.1l-2.5 0l-2.6 0l-2.5 0l-2.5 0l-2.6 0zM92 568l1.8 2.2l1.7 2.5l1.7 2.3l1.8 2.2l2 1.9l2.4 1.9l2.5 1.5l2.6 1.3l2.7 1.1l2.8 1l2.9 .6l3 .4l2.9 .8l.1 -.5l-2.9 -.7l-2.8 -.9l-2.8 -.9l-2.7 -1.1l-2.6 -1.1l-2.5 -1.2l-2.4 -1.5l-2.3 -1.8l-1.9 -1.7l-1.9 -2.1l-1.9 -2.1l-2 -2.2l-1.9 -2.2zM433.4 529.6l-1.5 2.2l-1.4 2.2l-1.7 2.2l-2 2.1l-1.9 1.6l-2.1 1.7l-2.3 1.7l-2.5 1.6l-2.7 1.5l-2.1 1.1l-2.1 1.1l-2.2 1l-2.4 1l-2.5 1l-2.8 1l-2.9 .8l-2.2 .6l-2.3 .6l-2.5 .6l-2.6 .5l-2.6 .6l-2.7 .4l-2.7 .5l-2.7 .5l-2.7 .4l-2.5 .4l-2.6 .3l-2.6 .3l-2.5 .3l-2.6 .3l-2.5 .2l-2.6 .2l-2.6 .3l-2.5 .2l-2.6 .1l-2.6 .2l.1 .5l2.5 -.2l2.6 -.1l2.6 -.1l2.6 0l2.5 -.1l2.6 -.1l2.6 -.1l2.6 -.1l2.6 -.2l2.6 -.3l2.6 -.3l2.7 -.4l2.7 -.4l2.7 -.5l2.7 -.5l2.7 -.5l2.6 -.6l2.5 -.6l2.4 -.6l2.2 -.6l3 -.9l2.8 -.9l2.6 -1l2.4 -1.1l2.3 -1.1l2.1 -1.1l2.1 -1.1l2.8 -1.7l2.4 -1.8l2.3 -1.8l2 -1.9l1.9 -1.8l1.9 -2.3l1.5 -2.3l1.4 -2.2l1.5 -2.2zM373.5 586.7l2.5 .5l2.6 .4l2.5 .5l2.5 .4l2.5 .5l2.5 .4l2.5 .5l2.5 .4l2.5 .5l2.6 .4l2.5 .5l2.5 .5l2.6 .5l2.6 .5l2.5 .5l2.6 .5l2.6 .5l2.6 .5l2.6 .4l2.6 .5l2.6 .5l2.6 .4l2.7 .4l2.7 .4l2.8 .4l2.9 .4l2.8 .4l2.8 .4l2.7 .3l2.6 .4l2.4 .2l2.2 .3l2.1 .2l3.7 .4l3 .3l2.5 .1l2.2 .1l2.2 -.2l4.1 -.9l2.9 -3.3l1 -2.7l.7 -2.6l.5 -2.9l.4 -2.9l.5 -2.8l.6 -2.9l.5 -3l.5 -2.9l.5 -2.9l.5 -2.5l.8 -2.6l.8 -2.4l.9 -2.4l.8 -2.4l-4.4 -1.7l-1 2.4l-.9 2.3l-1 2.6l-.9 2.9l-.7 2.7l-.7 2.9l-.6 3l-.6 3l-.6 2.8l-.5 2.9l-.6 2.9l-.5 2.7l-.6 2.2l-.4 1.2l-.8 1.2l-2.1 .2l-1.5 .1l-1.8 0l-2.2 -.1l-2.9 -.3l-3.7 -.4l-2 -.2l-2.2 -.3l-2.4 -.2l-2.6 -.3l-2.7 -.4l-2.8 -.3l-2.8 -.3l-2.8 -.4l-2.8 -.3l-2.8 -.3l-2.6 -.3l-2.6 -.3l-2.6 -.3l-2.6 -.3l-2.6 -.4l-2.7 -.3l-2.6 -.3l-2.6 -.3l-2.6 -.3l-2.6 -.3l-2.6 -.2l-2.6 -.3l-2.6 -.2l-2.6 -.3l-2.5 -.2l-2.6 -.2l-2.5 -.2l-2.6 -.1l-2.5 -.2l-2.6 -.2l-2.5 -.2l-2.5 -.2l-2.6 -.2zM469.8 604.2l-.9 2.6l-1.1 2.6l-1.1 2.6l-1.1 2.5l-1.1 2.6l-1 2.6l-1.1 2.6l-1 2.6l-1 2.5l-1 2.7l-1 2.6l-.9 2.6l-1 2.6l-.8 2.7l5.2 1.7l.8 -2.7l.9 -2.6l.7 -2.7l.8 -2.7l.7 -2.7l.7 -2.7l.6 -2.8l.7 -2.7l.5 -2.7l.6 -2.8l.5 -2.7l.6 -2.7l.5 -2.8l.7 -2.6z"/>
<path fill="none" stroke="#4b4b4a" stroke-width="1" d="M102.1 511L102.1 530.6M111.4 509.9L111.4 529.6M122.1 508.6L122.1 528.5M134 507.2L134 527.2M145.7 505.9L145.7 525.9M157.9 504.5L157.9 524.6M170.3 503L170.3 523.3M181.7 504L181.4 512.1M190.3 503.1L188.9 513.6M217.9 500.4L217.6 504.6M229.6 499.4L229 506.9M242.1 499.7L241.3 509.3M255.4 497.9L254.6 511.4M269.3 497.4L268.4 513.6M284.4 496.9L283.6 515M299.7 496.4L298.9 515M314.4 496.4L313.6 515M330 496.4L329.1 515M344.7 497.1L343.9 515.7M359.7 498.3L358.9 516.4M374 499.7L373.1 517.9M387.6 501.4L386.7 519.3M400.4 503.1L399.6 521.4M412.6 505.3L411.7 523.3M424 507.6L423.1 525.7M435.4 510L434.6 527.9M445.4 512.1L444.6 530M454.7 514.3L453.9 532.1M463.6 516.4L462.7 534.3M471.9 518.3L471 536M479.7 520L478.9 537.9M197.9 504L193.9 524M210.3 505.7L201.7 524.6M222.1 507.9L212.1 527.1M234.6 511.1L224.3 529.7M247.1 513.6L237.9 530.7M260 517.9L250.7 535M272.9 522.9L263.6 540.7M286.4 528.6L277.1 546.4M298.6 535L289.3 552.1M311.8 541.3L301 559.5M323.1 548.2L312.8 566.9M334.9 557.5L325.1 574.7M346.7 566.9L336.4 583.1M356.1 575.2L345.2 591M363.9 583.1L352.1 597.4M372.8 591.5L360 605.7M381.6 602.3L368.8 614.6M390.5 611.6L376.7 623.4M398.8 622.4L385.1 633.3M405.7 630.8L394.9 639.7"/>
</g>
<clipPath id="c2"><rect x="722" y="190" width="389" height="446.6"/></clipPath>
<g clip-path="url(#c2)">
<path fill="#4b4b4a" d="M719.5 188.7l2.8 3.6l1.6 2.2l1.9 2.7l2.2 2.9l1.6 2.2l1.8 2.3l2 2.4l2.2 2.1l3.1 2l3.2 1.3l3.1 1.1l3.2 .7l3 .4l2.5 .7l1.9 1.3l1.8 1.8l1.7 2l.4 -.3l-1.4 -2.2l-1.3 -2.4l-1.9 -2.2l-2.7 -1.6l-3 -1.1l-2.8 -1.2l-2.7 -1.3l-2.6 -1.3l-2.4 -1.6l-1.6 -1.6l-1.7 -2.1l-1.7 -2.3l-1.7 -2.1l-2.1 -2.9l-1.9 -2.7l-1.7 -2.3l-2.9 -3.6zM775.9 194.7l2.2 -2l2.3 -2.4l-1.3 -1.2l-2.4 2.5l-1.2 2.8zM803.5 197.1l2.6 .8l2.7 1l3 .3l2.9 -.6l2.5 -1.2l2.3 -1.3l3.2 -2.3l2.8 -2.3l3.2 -3.4l-.3 -.4l-3.9 2.3l-3.2 1.2l-3.6 1.3l-2.4 1l-2.2 1l-2 .8l-2.2 .6l-2.6 .4l-2.7 .3zM752.2 229.5l3.3 -.3l3.2 -.4l3.2 -1l2.3 -1.5l2 -1.8l1.8 -2.2l1.8 -2.1l-.2 -.4l-2.7 .7l-2.7 .6l-2.5 .9l-2.2 1.1l-2.6 1.7l-2.4 2.1l-2.5 2.2zM761.2 230.1l.5 2.8l.3 3l.8 3l1.3 3l1.7 3l2 2.8l1.6 2.1l1.9 1.9l1.9 1.8l2 1.5l2.8 1.5l2.8 1.1l2.7 1.2l.2 -.5l-2.6 -1.4l-2.5 -1.5l-2.4 -1.8l-1.7 -1.6l-1.8 -1.7l-1.8 -1.9l-1.5 -1.9l-1.9 -2.6l-1.7 -2.9l-1.4 -2.7l-1.1 -2.7l-.9 -2.8l-.7 -2.9zM756.4 206l2.7 1l2.8 1.2l2.7 1.1l2.4 1l1.8 1l1.9 1.4l1.5 1.8l1.5 2.1l1.4 2.4l1.1 2.1l1 2.2l.9 2.5l.9 2.5l.9 2.5l.8 2.4l.8 2.5l.7 2.5l.6 2.5l.6 2.6l.5 2.8l.5 3.1l.4 3l.4 2.9l.3 2.3l.3 3.9l.6 3.1l1.9 3.1l3 2.1l4 .7l4.2 -.7l3.3 -2.6l2.5 -2.9l-3 .5l2.2 1.3l2.3 2.1l.9 1.5l1.3 2.1l1.3 2.4l1.3 2.6l1.3 2.4l2.9 1.1l3 -1l3.1 -1.1l3.5 -1.6l2.3 -1.5l2.3 -1.6l2.4 -1.8l2.3 -1.8l2.1 -1.8l2.1 -1.7l2 -1.8l1.9 -1.8l1.8 -1.7l1.7 -1.7l2.4 -2.4l2.1 -2.4l2.2 -2.1l-.3 -.3l-2.3 2l-2.5 1.9l-2.8 2l-1.9 1.3l-2 1.4l-2.2 1.4l-2.2 1.5l-2.2 1.4l-2.3 1.6l-2.4 1.5l-2.4 1.6l-2.3 1.4l-2 1.2l-3.1 1.4l-2.8 1l-3.1 1l2.9 1.1l-1.3 -2.4l-1.4 -2.5l-1.3 -2.5l-1.3 -2.3l-1.5 -2.2l-2.9 -2.6l-2.6 -1.7l-3 .5l-2.3 2.6l-1.9 1.7l-2.3 .3l-2.3 -.4l-1.3 -.9l-.9 -1.6l-.3 -2l-.3 -3.8l-.3 -2.4l-.4 -2.9l-.4 -3.1l-.5 -3.2l-.6 -2.9l-.6 -2.8l-.7 -2.6l-.7 -2.6l-.8 -2.6l-.8 -2.6l-.9 -2.5l-.9 -2.6l-1.1 -2.6l-1.1 -2.5l-1.2 -2.3l-1.5 -2.6l-1.7 -2.5l-2.1 -2.4l-2.7 -1.9l-2.8 -1.1l-2.9 -.5l-3.1 -.1l-3 .1l-2.9 -.2zM819.9 284.5l2.9 1.1l2.8 1.2l2.3 1.2l2.7 1.8l2 2l1.2 1.5l1.2 2.1l1.4 2.3l1.3 2.4l1.4 2.8l1.7 2.9l2.1 2.5l2.4 2.4l2.5 2.1l2.8 1.7l2.9 1.3l3.1 1l3.1 .5l3.3 0l3.4 -.6l3.3 -1.4l2.9 -1.8l3.1 -2.1l2.1 -1.3l2.3 -1.5l2.3 -1.7l2.5 -1.7l2.4 -1.8l1.9 -1.5l1.9 -1.6l1.9 -1.7l1.9 -1.7l2 -1.8l2 -1.8l1.8 -1.7l1.8 -1.8l1.9 -1.8l1.9 -1.9l1.9 -1.9l1.9 -2l1.8 -2l1.7 -2l1.7 -2.1l1.7 -2.2l1.6 -2.1l1.5 -2.2l1.5 -2.1l1.4 -2.1l1.5 -2.4l1.4 -2.4l1.4 -2.3l1.2 -2.3l1.2 -2.1l1 -2l1.4 -2.7l1.1 -2.3l1.1 -2.2l1.2 -2.1l-.4 -.3l-1.3 2.2l-1.3 2l-1.5 2.1l-1.7 2.4l-1.4 1.8l-1.4 1.9l-1.6 2.1l-1.6 2.1l-1.7 2.1l-1.7 2.2l-1.6 1.8l-1.6 2l-1.7 2l-1.7 2l-1.7 2l-1.7 2l-1.8 1.9l-1.7 1.9l-1.8 1.9l-1.9 1.8l-1.8 1.9l-1.9 1.8l-1.8 1.7l-1.8 1.7l-2 1.8l-1.9 1.8l-1.8 1.6l-1.9 1.6l-1.8 1.6l-1.8 1.4l-2.3 1.7l-2.3 1.7l-2.3 1.5l-2.3 1.5l-2.1 1.4l-3.1 2l-2.5 1.7l-2.3 1l-2.4 .4l-2.4 -.1l-2.5 -.4l-2.4 -.7l-2.3 -1.1l-2.3 -1.3l-2 -1.7l-2 -2.1l-1.8 -2.1l-1.4 -2.3l-1.3 -2.7l-1.4 -2.6l-1.4 -2.4l-1.5 -2.4l-1.9 -2.2l-3.2 -2.1l-3.6 -1.2l-3 -.5l-3.1 -.1l-3 -.3zM892 297.3l.5 2.9l.7 2.9l.7 2.9l.9 2.9l.8 2.9l1 3l1 2.9l.7 3.1l.5 -.1l-.3 -3.1l-.1 -3.1l-.1 -3.2l-.2 -3l-.3 -3l-.3 -3l-.4 -2.9l-.5 -3zM893.4 305.5l-2.1 1.4l-2.2 1.4l-2.3 1.3l-2.2 1.3l-2.2 1.4l-2.2 1.4l-2.1 1.4l-2.5 1.8l-2.4 2l-2.4 2l-2.3 1.9l-2 1.8l-1.7 1.4l-2.5 1.9l-1.8 1.4l-2.1 2l-1.7 1.8l-1.8 2.1l-1.9 2.3l-1.9 2.4l-1.9 2.6l-1.5 2.3l-1.6 2.3l-1.5 2.5l-1.5 2.6l-1.4 2.6l-1.5 2.7l-1.3 2.4l-1.3 2.4l-1.2 2.6l-1.3 2.5l-1.2 2.6l-1.2 2.5l-1.3 2.4l-1.2 2.4l-1.3 2.3l-1.2 2.4l-1.3 2.3l-1.2 2.3l-1.3 2.2l-1.1 2.2l-1.4 2.5l-1.2 2.4l-1.2 2.3l-1.2 2.3l-1.2 2l-1.2 2l-1.5 2.1l-1.5 1.9l-1.6 1.9l-1.7 1.8l-1.6 2l.3 3.3l2.2 1.9l2.2 1.9l2.4 2l2.8 1.9l2.1 1.2l2.2 1.1l2.3 1.1l2.4 1.1l2.5 1l2.7 .9l2.3 .8l2.4 .6l2.5 .7l2.6 .6l2.6 .5l2.7 .5l2.7 .4l2.7 .4l2.9 .3l3 .2l3 .2l2.9 .1l2.9 .1l2.8 0l2.7 -.1l2.6 -.2l2.5 -.3l2.5 -.3l2.5 -.4l2.5 -.4l2.5 -.5l2.6 -.5l2.7 -.6l2.7 -.7l2.8 -.7l2.7 -.8l2.7 -.8l2.8 -1l2.3 -.8l2.4 -.9l2.4 -1l2.4 -1l2.3 -1.1l2.4 -1.1l2.3 -1.1l2.4 -1.1l2.3 -1.2l2.4 -1.3l2.4 -1.3l2.3 -1.3l2.4 -1.4l2.3 -1.4l2.4 -1.4l2.3 -1.4l2.4 -1.5l2.3 -1.5l2.3 -1.5l2.4 -1.6l2.3 -1.6l2.4 -1.6l2.3 -1.6l2.3 -1.6l2.1 -1.5l2.2 -1.5l2.1 -1.5l2.1 -1.6l2.1 -1.5l2.1 -1.6l2.1 -1.5l2 -1.5l2 -1.5l2.2 -1.7l2.2 -1.8l2.1 -1.7l2.1 -1.7l2.1 -1.7l1.9 -1.6l1.9 -1.5l1.7 -1.4l2.4 -2l2.1 -1.8l1.9 -1.6l1.8 -1.6l1.9 -1.6l.8 -1.2l.6 -2.6l.7 -2.6l.8 -2.7l.8 -2.3l.8 -2.5l.9 -2.5l1.1 -2.7l.9 -2.2l.9 -2.2l1.1 -2.4l1 -2.4l1 -2.3l1 -2.4l1 -2.3l1 -2.3l.9 -2.3l1 -2.4l1 -2.5l.9 -2.5l1 -2.5l.9 -2.5l.9 -2.5l1 -2.6l.9 -2.5l1 -2.6l.9 -2.5l.8 -2.3l1.1 -2.8l1 -2.7l.9 -2.5l.9 -2.4l1.2 -2.9l1.1 -2.8l1 -2.4l1.4 -2.7l1.4 -2.3l-.4 -.3l-1.4 2.4l-1.5 2.7l-1.3 2.3l-1.3 2.6l-1.4 2.9l-1.1 2.3l-1.2 2.4l-1.2 2.6l-1.3 2.7l-1.1 2.3l-1.1 2.4l-1.1 2.4l-1.1 2.5l-1.2 2.5l-1 2.4l-1.1 2.5l-1.1 2.5l-1.1 2.4l-1.1 2.4l-1 2.3l-1.1 2.3l-1 2.3l-1.1 2.2l-1 2.3l-1.1 2.4l-1.1 2.3l-1.1 2.4l-1 2.3l-.9 2.3l-1.1 2.7l-.9 2.7l-.9 2.5l-.8 2.4l-.9 2.9l-.6 2.6l-.7 2.6l.7 -1.2l-1.9 1.6l-1.8 1.6l-1.9 1.6l-2 1.7l-2.4 2l-1.7 1.4l-1.9 1.6l-1.9 1.6l-2.1 1.6l-2.1 1.7l-2.1 1.7l-2.2 1.7l-2.1 1.7l-2 1.5l-2 1.5l-2 1.6l-2.1 1.5l-2.1 1.5l-2.1 1.6l-2.1 1.5l-2.1 1.5l-2.1 1.4l-2.3 1.6l-2.3 1.6l-2.3 1.6l-2.3 1.6l-2.4 1.5l-2.3 1.6l-2.3 1.4l-2.3 1.5l-2.3 1.4l-2.3 1.4l-2.3 1.3l-2.3 1.4l-2.3 1.3l-2.3 1.2l-2.3 1.3l-2.3 1.1l-2.3 1.2l-2.3 1.1l-2.3 1l-2.3 1.1l-2.3 .9l-2.3 1l-2.3 .9l-2.3 .8l-2.6 .9l-2.6 .8l-2.7 .7l-2.6 .7l-2.6 .7l-2.6 .5l-2.6 .6l-2.5 .4l-2.4 .5l-2.4 .3l-2.3 .3l-2.4 .3l-2.5 .1l-2.5 .1l-2.7 .1l-2.7 -.1l-2.9 -.1l-2.9 -.2l-2.8 -.2l-2.8 -.3l-2.7 -.4l-2.6 -.4l-2.5 -.4l-2.5 -.6l-2.5 -.5l-2.4 -.6l-2.3 -.7l-2.2 -.7l-2.4 -.8l-2.4 -1l-2.2 -1l-2.2 -1l-2 -1.1l-1.9 -1l-2.5 -1.7l-2.2 -1.8l-2.1 -1.9l-2.3 -1.9l.3 3.3l1.6 -1.9l1.7 -1.8l1.6 -2l1.7 -2.1l1.7 -2.3l1.3 -2.1l1.2 -2.3l1.3 -2.3l1.2 -2.3l1.2 -2.4l1.3 -2.5l1.2 -2.1l1.2 -2.3l1.3 -2.2l1.2 -2.4l1.3 -2.3l1.3 -2.4l1.2 -2.5l1.3 -2.4l1.2 -2.5l1.3 -2.6l1.2 -2.5l1.3 -2.6l1.2 -2.4l1.2 -2.3l1.4 -2.7l1.4 -2.6l1.4 -2.5l1.4 -2.5l1.4 -2.3l1.4 -2.3l1.7 -2.5l1.7 -2.5l1.7 -2.3l1.6 -2l1.5 -1.8l1.8 -2l1.6 -1.3l2.4 -2.1l1.7 -1.7l1.9 -1.9l2.1 -2.1l2.2 -2.2l2.2 -2.1l2.3 -2l1.9 -1.5l2 -1.6l2.1 -1.5l2.1 -1.5l2.2 -1.5l2.1 -1.4l2.2 -1.4zM839.3 336.2l-2.5 -.2l-2.4 -.3l-2.4 -.4l-2.5 -.4l-2.6 -.2l-2.7 -.1l-2.8 0l-2.9 .2l-2.9 .2l-3 .3l-3.1 .5l-3 .6l-2.5 .7l-2.6 .8l-2.6 .8l-2.5 1l-2.6 1l-2.5 1.2l-2.6 1.2l-2.2 1.2l-2.3 1.3l-2.3 1.4l-2.2 1.4l-2.3 1.5l-2.2 1.6l-2.1 1.6l-2.1 1.7l-2 1.6l-2 1.7l-1.9 1.8l-1.9 1.8l-1.8 1.9l-1.8 1.9l-1.7 2l-1.7 2.1l-1.7 2.3l-1.7 2.5l-1.5 2.5l-1.4 2.5l-1.4 2.6l-1.3 2.6l-1.3 2.6l-1.1 2.5l-1.1 2.4l-1.1 2.5l-1 2.6l-.9 2.6l-1 2.6l-.9 2.6l-.9 2.6l-.9 2.6l-.9 2.7l-.8 2.7l-.8 2.7l-.8 2.7l-.8 2.8l-.8 2.7l-.7 2.7l-.7 2.8l-.7 3l-.7 3l-.6 3l-.6 2.9l-.5 2.7l-.4 2.3l-.4 1.9l-.6 3.2l-.5 2.6l-.3 2.1l-.5 2.6l-.4 2.9l-.5 3l-.4 2.8l-.3 2.6l-.3 3.4l-.3 3.1l-.2 2.9l-.5 3l.5 0l.5 -2.9l.8 -2.9l.7 -2.9l1 -3.2l.7 -2.5l.9 -2.7l.9 -2.9l.8 -2.8l.8 -2.5l.6 -2l.8 -2.5l.9 -3.2l.6 -1.9l.6 -2.3l.7 -2.6l.7 -2.8l.7 -3l.7 -3l.8 -2.9l.7 -2.7l.7 -2.7l.7 -2.7l.8 -2.6l.8 -2.7l.8 -2.7l.8 -2.6l.9 -2.6l.8 -2.6l.9 -2.6l.9 -2.6l.9 -2.5l1 -2.5l1 -2.4l1 -2.5l1 -2.3l1.1 -2.3l1.2 -2.6l1.3 -2.5l1.3 -2.4l1.3 -2.4l1.4 -2.3l1.5 -2.2l1.6 -2.2l1.5 -1.8l1.6 -1.9l1.6 -1.7l1.7 -1.8l1.8 -1.7l1.8 -1.7l1.9 -1.6l1.9 -1.6l1.9 -1.5l2.1 -1.5l2 -1.5l2.1 -1.5l2.2 -1.4l2.1 -1.3l2.1 -1.3l2.1 -1.2l2.3 -1.3l2.4 -1.2l2.3 -1.2l2.4 -1.1l2.3 -1l2.3 -.9l2.4 -.9l2.7 -.9l2.8 -.8l2.8 -.7l2.8 -.6l2.8 -.5l2.6 -.4l2.6 -.2l2.5 -.2l2.5 0l2.4 0l2.5 .1l2.5 .2zM850.6 334.5l-2.5 1l-2.5 .9l-2.6 .8l-2.4 1l-2.4 1.3l-2 1.6l-1.9 1.8l-1.7 2l-1.7 2.2l-1.8 2.3l-1.4 2l-1.5 2.2l-1.4 2.3l-1.5 2.4l-1.5 2.5l-1.6 2.8l-1.2 1.9l-1.2 2.1l-1.3 2.1l-1.3 2.2l-1.3 2.3l-1.3 2.3l-1.3 2.4l-1.4 2.3l-1.2 2.3l-1.3 2.4l-1.3 2.3l-1.3 2.4l-1.2 2.4l-1.3 2.4l-1.3 2.4l-1.3 2.4l-1.2 2.4l-1.3 2.4l-1.3 2.4l-1.3 2.4l-1.3 2.4l-1.2 2.5l-1.3 2.4l-1.3 2.4l-1.3 2.3l-1.2 2.4l-1.2 2.2l-1.4 2.6l-1.4 2.6l-1.4 2.7l-1.4 2.6l-1.3 2.4l-1.2 2.3l-1 1.9l-.7 1.6l-1.4 2.9l-1 2.4l-1.4 3l-1.4 3.2l-1.2 2.5l-1.7 2.6l-1.7 1.7l.4 .3l1.7 -1.7l2.1 -2.5l1.5 -2.3l1.9 -3l1.7 -2.9l1.3 -2.2l1.5 -2.8l.9 -1.5l1.1 -1.9l1.2 -2.2l1.4 -2.4l1.4 -2.6l1.4 -2.6l1.4 -2.7l1.4 -2.5l1.2 -2.3l1.2 -2.3l1.3 -2.4l1.3 -2.4l1.3 -2.4l1.3 -2.4l1.3 -2.4l1.3 -2.5l1.2 -2.4l1.3 -2.4l1.3 -2.4l1.2 -2.4l1.3 -2.4l1.3 -2.4l1.2 -2.4l1.3 -2.3l1.3 -2.4l1.2 -2.3l1.3 -2.3l1.3 -2.3l1.4 -2.3l1.3 -2.4l1.3 -2.2l1.3 -2.3l1.2 -2.1l1.2 -2.1l1.1 -2l1.5 -2.8l1.5 -2.6l1.3 -2.4l1.3 -2.3l1.3 -2.2l1.3 -2.1l1.5 -2.4l1.5 -2.2l1.6 -2l1.6 -1.9l1.8 -1.6l2.1 -1.4l2.3 -1.2l2.5 -1.1l2.5 -.9l2.5 -1zM966.4 188.4l2.2 3.6l1.2 1.9l1.4 2.2l1.6 2.6l1.8 2.8l1.9 2.8l1.5 2l1.5 2.1l1.6 2.3l1.6 2.2l1.8 2.3l1.8 2.2l1.9 2.1l1.9 2.1l1.9 1.9l2.1 2l2.1 1.9l2.1 1.9l2.3 1.7l2.3 1.7l2.3 1.6l2.5 1.5l2.5 1.5l2.5 1.3l2.6 1.3l2.5 1.2l2.6 1.2l2.7 1.1l2.7 1.1l2.7 1l2.8 .9l2.7 .8l2.8 .8l2.6 .6l3.2 .6l3.2 .5l3.1 .4l3 .2l2.7 .2l2.4 .2l3.6 .1l2.5 -.1l2.6 0l0 -.8l-2.5 -.4l-2.5 -.3l-3.4 -.7l-2.3 -.6l-2.6 -.6l-2.9 -.7l-3 -.7l-3 -.8l-2.9 -.9l-2.5 -.8l-2.6 -.8l-2.7 -.9l-2.6 -.9l-2.6 -1l-2.6 -1l-2.6 -1.1l-2.5 -1.1l-2.5 -1.2l-2.4 -1.2l-2.4 -1.3l-2.4 -1.3l-2.3 -1.4l-2.2 -1.5l-2.1 -1.6l-2.1 -1.6l-2 -1.8l-2 -1.8l-2 -1.9l-1.9 -1.9l-1.8 -1.9l-1.7 -2l-1.7 -2.1l-1.7 -2.2l-1.6 -2.2l-1.6 -2.1l-1.5 -2.2l-1.4 -2l-1.9 -2.7l-1.7 -2.7l-1.6 -2.5l-1.4 -2.3l-1.2 -1.8l-2.1 -3.5zM1045.9 271.6l1.9 -2l2.1 -1.8l2.1 -1.9l2.2 -1.8l2.3 -1.8l2.1 -1.5l2.1 -1.5l2.3 -1.5l2.3 -1.5l2.3 -1.5l2.3 -1.5l2.4 -1.5l2.4 -1.5l2.4 -1.5l2.4 -1.4l2.4 -1.4l2.4 -1.4l2.3 -1.3l2.4 -1.2l2.3 -1.2l2.3 -1.2l2.4 -1.1l2.3 -1l2.8 -1.1l2.9 -1.1l2.9 -1l2.6 -.9l2.4 -.8l2.9 -.9l2.3 -.7l2.3 -.6l-1.6 -5.5l-2.3 .6l-2.4 .7l-3 1l-2.4 .8l-2.7 .9l-2.9 1l-3.1 1.2l-3 1.2l-2.4 1l-2.4 1.2l-2.4 1.1l-2.5 1.3l-2.4 1.3l-2.5 1.4l-2.4 1.5l-2.4 1.5l-2.4 1.7l-2.4 1.7l-2.3 1.7l-2.3 1.8l-2.1 1.7l-2.2 1.8l-2.1 1.9l-2.1 1.8l-1.9 1.9l-1.9 1.8l-2 2.2l-1.9 2.2l-1.8 2.2l-1.7 2.2l-2 2zM1059 262.1l-.8 2.4l-.7 2.4l-.8 2.3l-.9 2.5l-1 2.5l-1 2.8l-.9 2.2l-.9 2.4l-1 2.4l-1 2.5l-1 2.6l-1 2.6l-1 2.5l-.9 2.6l-1 2.5l-1 2.5l-1 2.5l-.9 2.6l-1 2.5l-.9 2.5l-.9 2.4l-.8 2.4l-.9 2.6l-.8 2.6l-.8 2.5l-.8 2.5l-.7 2.4l-.6 2.4l-.5 2.3l-.6 3l-.5 2.9l-.3 2.9l-.1 2.8l0 3l.2 2.6l.3 2.6l.4 2.6l.5 2.7l.7 2.8l.9 2.8l.7 2.3l.8 2.2l.9 2.4l1 2.3l1.1 2.4l1.1 2.4l1.1 2.4l1.2 2.4l1.1 2.2l1.2 2.2l1.2 2.3l1.2 2.2l1.3 2.3l1.3 2.2l1.4 2.3l1.4 2.2l1.4 2.3l1.5 2.2l1.5 2.3l1.5 2.3l1.6 2.3l1.6 2.3l1.7 2.2l1.7 2.2l1.7 2.2l1.7 2.1l1.7 2l1.8 2.1l1.8 2l1.8 1.9l1.8 1.9l1.8 1.9l1.9 1.7l1.7 1.8l1.8 1.6l2.2 2.1l2.2 2l2.2 1.8l2.1 1.8l2.1 1.7l2 1.6l1.9 1.5l2.5 1.9l2.3 1.7l2.1 1.6l2.1 1.6l2.1 1.6l.4 -.4l-2.2 -1.6l-2.1 -1.6l-2.1 -1.6l-2.2 -1.8l-2.3 -2.1l-1.8 -1.6l-1.9 -1.8l-1.9 -1.8l-2.1 -1.9l-2 -1.9l-2.1 -2.1l-2 -2.1l-1.7 -1.8l-1.7 -1.8l-1.7 -1.8l-1.7 -1.9l-1.8 -2l-1.7 -2l-1.7 -2l-1.7 -2l-1.7 -2.1l-1.6 -2.1l-1.6 -2.1l-1.6 -2.2l-1.7 -2.2l-1.6 -2.3l-1.5 -2.2l-1.6 -2.3l-1.4 -2.3l-1.5 -2.2l-1.4 -2.2l-1.4 -2.2l-1.3 -2.2l-1.3 -2.3l-1.3 -2.2l-1.2 -2.2l-1.2 -2.2l-1.1 -2.2l-1.1 -2.1l-1.2 -2.4l-1.2 -2.4l-1 -2.4l-1.1 -2.3l-.9 -2.3l-.9 -2.2l-.8 -2.2l-.7 -2.2l-.8 -2.7l-.7 -2.7l-.5 -2.5l-.4 -2.5l-.2 -2.5l-.2 -2.4l0 -2.8l.1 -2.7l.3 -2.7l.4 -2.7l.6 -3l.5 -2.2l.6 -2.3l.7 -2.4l.7 -2.4l.8 -2.5l.8 -2.6l.8 -2.6l.8 -2.3l.8 -2.5l.8 -2.5l.9 -2.5l.9 -2.6l.9 -2.6l.9 -2.5l.8 -2.6l.9 -2.5l.8 -2.6l.9 -2.7l.9 -2.6l.8 -2.6l.8 -2.5l.8 -2.4l.7 -2.3l.9 -2.8l.7 -2.6l.8 -2.5l.7 -2.4l.8 -2.3l.8 -2.5zM771.9 459.8l-1.8 1.6l-1.9 1.6l-1.8 1.6l-1.9 1.6l-2.1 1.9l-1.8 1.6l-2 1.8l-2 1.8l-2 1.9l-2 2l-2 2.1l-1.6 1.9l-1.7 1.9l-1.7 2l-1.6 2.1l-1.6 2.1l-1.5 2.1l-1.4 2.2l-1.5 2.5l-1.4 2.7l-1.3 2.6l-1.2 2.7l-1.1 2.8l-.9 2.7l-.7 2.7l-.6 2.7l-.4 2.7l-.3 2.6l-.2 2.7l0 2.7l0 2.7l.2 2.7l.3 2.7l.5 2.7l.5 2.7l.7 2.6l.8 2.7l.9 2.7l1.1 2.8l1.1 2.6l1.3 2.7l1.4 2.6l1.4 2.5l1.6 2.5l1.6 2.5l1.8 2.4l1.9 2.3l2.1 2.2l1.9 1.9l2.1 1.8l2.2 1.7l2.2 1.6l2.2 1.6l2.1 1.4l2 1.3l2.6 1.6l2.5 1.4l2.3 1.2l2.2 1l2.1 1l2.9 1.3l2.5 1l2.5 1l.3 -.5l-2.5 -1.2l-2.4 -1.1l-2.8 -1.5l-2 -1.1l-2.1 -1.1l-2.3 -1.3l-2.4 -1.5l-2.4 -1.7l-1.9 -1.4l-2 -1.5l-2.1 -1.6l-2.1 -1.7l-2.1 -1.8l-1.9 -1.8l-1.8 -1.8l-1.8 -2.1l-1.8 -2.3l-1.6 -2.4l-1.6 -2.4l-1.4 -2.4l-1.4 -2.5l-1.3 -2.5l-1.2 -2.5l-1.1 -2.6l-1 -2.6l-.9 -2.6l-.7 -2.6l-.7 -2.5l-.5 -2.6l-.4 -2.5l-.3 -2.6l-.2 -2.5l0 -2.6l0 -2.5l.2 -2.6l.2 -2.5l.4 -2.6l.6 -2.5l.6 -2.6l.9 -2.5l.9 -2.6l1.2 -2.6l1.2 -2.6l1.3 -2.6l1.4 -2.5l1.3 -2.1l1.4 -2.1l1.4 -2.1l1.6 -2.1l1.5 -2l1.6 -2l1.5 -1.9l1.9 -2.1l1.8 -2.1l1.9 -2l1.9 -1.9l1.9 -1.8l1.7 -1.7l2 -2l1.8 -1.8l1.7 -1.7l1.8 -1.7l1.8 -1.7zM825.7 478.1l2.5 .1l2.5 .2l2.5 .1l2.5 .2l2.5 .2l2.5 .2l2.5 .2l2.5 .2l2.8 .2l2.7 .2l2.8 .2l2.7 .2l2.8 .2l2.7 .2l2.7 .2l.2 -1.8l-2.8 -.1l-2.7 -.2l-2.8 -.1l-2.7 -.2l-2.8 -.1l-2.8 -.1l-2.8 -.1l-2.4 0l-2.5 -.1l-2.5 -.1l-2.5 0l-2.5 0l-2.6 -.1l-2.5 -.2l-2.5 -.1zM825.7 499.5l2.6 -.3l2.5 -.4l2.5 -.3l2.5 -.3l2.5 -.2l2.5 -.3l2.5 -.3l2.5 -.4l2.8 -.4l2.8 -.4l2.8 -.5l2.7 -.5l2.8 -.5l2.7 -.5l2.8 -.5l-.4 -1.7l-2.7 .5l-2.8 .6l-2.7 .5l-2.7 .6l-2.8 .5l-2.7 .6l-2.8 .5l-2.4 .5l-2.5 .4l-2.5 .4l-2.5 .5l-2.5 .4l-2.5 .3l-2.5 .4l-2.5 .3zM826.5 518.1l2.4 -.7l2.5 -.7l2.4 -.7l2.5 -.7l2.4 -.6l2.4 -.7l2.4 -.6l2.4 -.6l2.6 -.8l2.6 -.7l2.6 -.7l2.5 -.8l2.6 -.7l2.5 -.8l2.5 -.7l-.5 -1.7l-2.5 .8l-2.5 .7l-2.6 .8l-2.5 .8l-2.5 .8l-2.6 .9l-2.6 .8l-2.3 .8l-2.4 .8l-2.3 .8l-2.4 .7l-2.5 .8l-2.4 .8l-2.4 .7l-2.4 .7zM828.7 538.1l2.3 -1.3l2.4 -1.2l2.4 -1.3l2.4 -1.2l2.3 -1.2l2.4 -1.2l2.3 -1.1l2.3 -1.2l2.4 -1.3l2.5 -1.2l2.3 -1.3l2.3 -1.2l2.4 -1.2l2.3 -1.3l2.3 -1.3l-.9 -1.5l-2.3 1.3l-2.3 1.2l-2.3 1.3l-2.3 1.3l-2.3 1.3l-2.3 1.4l-2.5 1.4l-2.2 1.2l-2.2 1.3l-2.3 1.3l-2.3 1.4l-2.3 1.3l-2.4 1.3l-2.3 1.3l-2.3 1.2zM833 553.1l2.2 -1.5l2.2 -1.5l2.2 -1.4l2.2 -1.5l2.2 -1.4l2.2 -1.3l2.1 -1.3l2.1 -1.2l2.5 -1.4l2.5 -1.4l2.3 -1.2l2.3 -1.2l2.3 -1.2l2.4 -1.3l-.8 -1.5l-2.4 1.3l-2.3 1.2l-2.3 1.2l-2.3 1.4l-2.4 1.4l-2.6 1.6l-1.9 1.3l-2.1 1.4l-2.1 1.5l-2.1 1.5l-2.2 1.6l-2.1 1.5l-2.2 1.5l-2.2 1.4zM884.1 481.6l2.5 -.2l2.5 -.2l2.6 -.2l2.5 -.2l2.6 -.2l2.5 -.2l2.5 -.3l2.5 -.2l2.5 -.2l2.5 -.3l2.5 -.2l2.5 -.3l2.5 -.3l2.5 -.1l2.5 -.2l2.5 -.2l0 -.5l-2.5 .2l-2.5 .2l-2.5 .1l-2.5 .1l-2.5 .1l-2.5 .1l-2.5 .2l-2.6 .1l-2.5 .1l-2.5 .1l-2.6 .1l-2.5 .2l-2.5 .1l-2.6 .2l-2.5 .2l-2.6 .1zM884.9 494.2l2.6 .3l2.6 .4l2.6 .4l2.7 .3l2.6 .4l2.6 .3l2.5 .4l2.5 .3l2.8 .4l2.7 .5l2.7 .4l2.6 .4l2.6 .5l2.6 .5l2.6 .5l.1 -.4l-2.6 -.6l-2.6 -.5l-2.6 -.5l-2.6 -.6l-2.6 -.6l-2.7 -.6l-2.8 -.6l-2.5 -.4l-2.5 -.5l-2.6 -.4l-2.6 -.5l-2.6 -.4l-2.6 -.4l-2.7 -.4l-2.6 -.4zM885.8 507.6l2.6 .5l2.7 .5l2.7 .6l2.6 .4l2.6 .5l2.3 .4l3.2 .6l2.8 .6l2.7 .7l2.8 .7l.1 -.5l-2.7 -.7l-2.7 -.7l-2.8 -.9l-3.1 -.8l-2.4 -.6l-2.5 -.7l-2.6 -.6l-2.6 -.6l-2.7 -.6l-2.6 -.5zM886.6 519.4l2.4 .8l2.6 .9l2.5 .8l2.5 .7l2.4 .8l2.2 .7l3.2 1l2.8 .9l2.8 1l2.8 1.1l.1 -.5l-2.7 -1l-2.8 -1.1l-2.7 -1.2l-3.1 -1.3l-2.2 -.8l-2.4 -.9l-2.4 -.9l-2.5 -.9l-2.5 -.9l-2.5 -.9zM888.2 532.2l2.4 1.1l2.4 1.1l2.5 1l2.4 1l2.4 1l2.3 1l2.7 1.1l2.7 1l2.5 1.1l2.6 1.1l2.5 1.1l.2 -.5l-2.5 -1.1l-2.6 -1.1l-2.4 -1.2l-2.6 -1.3l-2.6 -1.3l-2.3 -1.1l-2.3 -1.1l-2.4 -1.1l-2.4 -1.2l-2.4 -1.1l-2.4 -1.1zM821.5 568.8l2.5 -1.2l2.4 -1.3l2.5 -1.2l2.5 -1.2l2.5 -1.1l2.5 -1.1l2.4 -1.2l2.5 -1.1l2.6 -1.1l2.5 -1.2l2.5 -1.1l2.5 -1l2.4 -1l2.3 -.9l3 -1.1l2.9 -.9l2.7 -.9l2.7 -.7l2.8 -.6l2.8 -.5l2.8 -.3l2.8 -.3l2.8 -.2l2.9 -.1l2.5 0l2.5 0l2.6 .1l2.6 .2l2.7 .2l2.7 .2l2.7 .3l2.9 .4l2.9 .5l2.9 .5l2.9 .4l2.8 .5l2.7 .5l2.7 .6l2.7 .5l2.7 .6l2.5 .5l2.5 .5l2.7 .5l2.7 .4l2.5 .4l2.4 .5l2.6 .4l.1 -.4l-2.6 -.5l-2.4 -.5l-2.5 -.4l-2.6 -.6l-2.8 -.6l-2.4 -.7l-2.5 -.6l-2.6 -.7l-2.6 -.7l-2.8 -.7l-2.7 -.6l-2.8 -.6l-2.8 -.6l-3 -.6l-2.9 -.5l-2.9 -.5l-2.8 -.3l-2.7 -.3l-2.7 -.2l-2.7 -.2l-2.6 -.1l-2.6 0l-2.5 0l-3 .1l-2.9 .2l-2.9 .3l-2.8 .4l-2.9 .5l-2.9 .6l-2.8 .7l-2.8 .9l-2.9 1l-3 1.2l-2.4 1l-2.4 1.1l-2.4 1.1l-2.5 1.3l-2.5 1.2l-2.4 1.3l-2.5 1.3l-2.4 1.2l-2.4 1.3l-2.4 1.3l-2.4 1.3l-2.5 1.3l-2.4 1.2l-2.5 1.2zM1106.9 517l-1.3 2.5l-1.3 2.4l-1.4 2.5l-1.9 2.5l-1.4 1.7l-1.5 1.9l-1.7 1.9l-1.8 1.9l-1.8 1.8l-2 1.7l-2.1 1.7l-2.3 1.8l-2.3 1.6l-2.5 1.6l-2.5 1.6l-2.5 1.4l-2.3 1.1l-2.2 1l-2.3 .9l-2.4 .9l-2.5 .8l-2.6 .8l-2.6 .8l-2.5 .6l-2.5 .7l-2.7 .6l-2.7 .6l-2.7 .5l-2.8 .6l-2.7 .5l-2.7 .4l-2.7 .4l-2.8 .4l-2.9 .3l-2.8 .4l-2.8 .2l-2.6 .3l-2.5 .2l-2.2 .3l-3.5 .3l-2.8 .2l-2.5 .1l-2.6 .1l0 .5l2.6 -.1l2.5 -.1l2.8 -.2l3.6 -.1l2.2 -.1l2.4 0l2.7 -.1l2.8 -.2l2.9 -.1l2.9 -.2l2.8 -.2l2.8 -.3l2.7 -.4l2.8 -.4l2.8 -.4l2.8 -.5l2.7 -.6l2.7 -.5l2.6 -.6l2.5 -.7l2.8 -.8l2.6 -.8l2.5 -.8l2.5 -.9l2.4 -1l2.3 -1.1l2.3 -1.1l2.7 -1.5l2.5 -1.6l2.5 -1.8l2.4 -1.8l2.2 -1.8l2.1 -1.9l1.9 -1.9l1.8 -2l1.7 -2.1l1.6 -2l1.4 -2l1.3 -1.9l1.7 -2.7l1.3 -2.5l1.2 -2.5l1.4 -2.4zM785.6 595.8l2.1 -1.4l2.1 -1.4l2.1 -1.5l2.1 -1.4l2.1 -1.5l2.1 -1.4l2.1 -1.3l2.2 -1.3l2.3 -1.3l2.4 -1.2l2.4 -1.2l2.5 -1.1l2.5 -1.1l2.5 -1.1l2.6 -1.1l2.6 -.9l2.5 -1l2.6 -.9l2.5 -.8l2.5 -.7l2.5 -.7l2.5 -.7l2.5 -.6l2.5 -.6l2.5 -.6l2.5 -.5l2.5 -.5l2.6 -.5l2.6 -.4l2.7 -.4l2.7 -.4l2.6 -.3l2.6 -.4l2.4 -.2l2.3 -.3l2.1 -.2l3.2 -.2l2.7 -.1l2.3 0l2.3 0l2.4 0l0 -.9l-2.4 -.1l-2.3 -.1l-2.3 -.2l-2.7 0l-3.3 .1l-2.1 .1l-2.3 .1l-2.5 .2l-2.6 .2l-2.7 .2l-2.7 .3l-2.7 .3l-2.7 .3l-2.6 .4l-2.6 .5l-2.5 .5l-2.6 .5l-2.5 .5l-2.6 .6l-2.5 .7l-2.6 .7l-2.6 .8l-2.5 .8l-2.6 .9l-2.6 1l-2.6 1l-2.6 1l-2.6 1.1l-2.6 1.2l-2.5 1.2l-2.5 1.2l-2.4 1.2l-2.3 1.3l-2.3 1.3l-2.2 1.4l-2.1 1.5l-2.2 1.4l-2.1 1.4l-2 1.5l-2.1 1.4l-2.2 1.4zM783 593l.2 2.6l.2 2.6l.2 2.6l.2 2.6l.2 2.5l.2 2.5l.3 2.9l.2 2.8l.3 2.7l.2 2.8l.3 2.7l3.3 -.3l-.3 -2.8l-.2 -2.7l-.3 -2.7l-.2 -2.8l-.3 -2.9l-.2 -2.4l-.2 -2.6l-.2 -2.6l-.2 -2.6l-.2 -2.6l-.2 -2.6zM787.3 622.8l2.3 -1l2.4 -1l2.3 -1l2.4 -1l2.3 -1l2.9 -1.2l2.8 -1.1l2.8 -1.1l2.9 -1.2l2.8 -1.1l2.9 -1.2l2.8 -1.1l2.8 -1.1l2.9 -1.1l2.8 -1.1l2.9 -1l2.8 -1l2.8 -1l2.8 -1l2.9 -1.1l2.8 -1.1l2.9 -1.1l3 -1.3l2.8 -1.3l2.6 -1.2l2.9 -1.5l2.5 -1.4l2.4 -1.5l-.3 -.7l-2.6 1.2l-2.6 1.2l-2.9 1.2l-2.7 1l-2.9 1.1l-3 1l-2.9 1.1l-2.9 .9l-2.8 .9l-2.9 1l-2.8 1l-2.9 1l-2.8 1.1l-2.9 1l-2.9 1.1l-2.8 1.1l-2.9 1.2l-2.8 1.1l-2.9 1.2l-2.8 1.1l-2.8 1.1l-2.9 1.2l-2.9 1.1l-2.3 1l-2.3 1l-2.4 1.1l-2.4 1l-2.3 1zM786.1 621.3l-.7 3.6l-.7 3.7l-.4 2.7l-.5 2.8l-.4 2.8l2.4 .4l.4 -2.8l.5 -2.8l.4 -2.7l.6 -3.8l.3 -3.6zM791.5 639.1l3.2 -2.4l1.6 -1.1l1.9 -1.5l2.2 -1.5l2.3 -1.7l2.2 -1.6l2.2 -1.5l2.3 -1.7l2.3 -1.6l2.3 -1.6l2.3 -1.5l2.3 -1.6l2.2 -1.5l2.3 -1.4l2.3 -1.5l2.2 -1.4l2.3 -1.4l2.3 -1.4l2.2 -1.3l2.3 -1.4l2.3 -1.3l2.3 -1.4l2.2 -1.3l2.3 -1.4l2.3 -1.4l2.3 -1.4l2.3 -1.4l2.4 -1.5l2.3 -1.5l2.3 -1.6l2.1 -1.4l2.5 -1.8l2.3 -1.7l2.3 -1.7l2.1 -1.7l2.2 -1.8l2 -1.8l2 -1.9l2 -2l1.8 -2.3l1.8 -2.3l1.7 -2.4l1.6 -2.3l1.5 -2.3l1.4 -2.3l1.4 -2.3l1.4 -2.3l-2.2 -1.3l-1.4 2.3l-1.4 2.2l-1.4 2.3l-1.5 2.2l-1.6 2.3l-1.6 2.3l-1.7 2.3l-1.8 2.1l-1.8 1.9l-2 1.8l-2 1.8l-2 1.8l-2.2 1.7l-2.1 1.6l-2.3 1.7l-2.5 1.7l-2.1 1.5l-2.2 1.4l-2.3 1.5l-2.4 1.5l-2.3 1.5l-2.3 1.4l-2.2 1.3l-2.3 1.4l-2.3 1.4l-2.3 1.3l-2.2 1.4l-2.3 1.3l-2.3 1.4l-2.3 1.3l-2.3 1.4l-2.3 1.5l-2.2 1.4l-2.3 1.5l-2.3 1.5l-2.3 1.6l-2.3 1.6l-2.3 1.6l-2.3 1.6l-2.3 1.6l-2.2 1.6l-2.3 1.6l-2.2 1.6l-2.2 1.6l-2 1.4l-1.6 1.2l-3.2 2.3zM890.1 560.9l3 .5l2.6 .8l2.3 1.9l1.8 2.7l.6 2.1l.3 2.5l.1 2.7l-.2 2.9l-.3 2.9l-.6 3.1l-.7 2.4l-.9 2.6l-1 2.7l-.8 2.4l-.8 2.9l-.6 2.6l-.7 2.6l2.1 .6l.7 -2.6l.8 -2.5l.9 -2.8l.8 -2.4l1 -2.6l1 -2.7l.7 -2.6l.7 -3.3l.4 -3.1l.1 -3l-.1 -3l-.4 -2.9l-.8 -2.7l-2.1 -3.3l-3 -2.4l-3.3 -1.1l-3.2 -.5zM894.7 599.3l-1.5 2.2l-1.4 2.1l-1.5 2.1l-1.6 1.7l-2.4 2.1l-2.6 1.7l-2.8 1.8l-2.1 1.4l-2.3 1.4l-2.2 1.4l-2.1 1.2l-2.6 1.3l-2.6 1l-2.6 .8l.2 .5l2.6 -.8l2.7 -.5l2.9 -.9l2.3 -.9l2.5 -1.2l2.4 -1.3l2.2 -1.4l2.9 -1.7l2.7 -1.9l2.6 -2.2l1.8 -2l1.5 -2.2l1.5 -2.2l1.5 -2.1zM892.5 603.9l-2.3 1.8l-2.2 1.9l-2.2 1.7l-2.4 1.7l-2.1 1.3l-2.2 1.3l-2.2 1.2l-2.3 1.2l-2.4 1.1l-2.3 1l-2.5 .8l-2.5 .8l-2.5 .7l-2.5 .6l.1 .5l2.5 -.6l2.6 -.6l2.6 -.6l2.5 -.6l2.5 -.8l2.5 -.9l2.4 -1.2l2.3 -1.2l2.3 -1.3l2.1 -1.3l2.5 -1.7l2.3 -1.8l2.2 -1.9l2.2 -1.8zM904.3 566.1l2.5 -.3l2.4 -.3l2.3 -.3l2.4 -.3l2.4 -.3l2.5 -.3l2.7 -.2l2.9 -.3l2.3 -.1l2.5 -.2l2.6 -.2l2.6 -.2l2.8 -.2l2.8 -.2l2.7 -.2l2.7 -.1l2.7 -.2l2.5 -.1l2.3 -.1l3 -.1l2.7 -.1l2.5 0l2.5 0l2.4 .1l2.5 .1l2.7 .2l3 .2l2.3 .2l2.4 .3l2.5 .3l2.6 .3l2.6 .3l2.7 .4l2.7 .4l2.7 .4l2.7 .4l2.6 .4l2.6 .4l2.6 .5l2.6 .5l2.6 .5l2.6 .5l2.6 .5l2.6 .6l2.6 .5l2.6 .5l2.6 .6l2.6 .5l2.6 .6l2.6 .5l2.6 .5l2.6 .5l2.6 .5l2.6 .5l2.6 .5l2.6 .5l2.6 .6l2.6 .5l2.6 .5l2.6 .5l2.6 .5l2.6 .5l2.7 .5l2.7 .5l2.6 .6l2.7 .5l2.6 .5l2.6 .5l2.6 .4l2.5 .5l2.4 .4l2.9 .5l2.8 .5l2.7 .4l2.7 .5l2.7 .4l2.6 .4l2.6 .4l2.7 .4l2.7 .4l.2 -1.2l-2.7 -.5l-2.6 -.5l-2.7 -.5l-2.6 -.4l-2.6 -.5l-2.7 -.5l-2.7 -.5l-2.8 -.5l-2.9 -.6l-2.4 -.4l-2.5 -.5l-2.5 -.6l-2.6 -.5l-2.6 -.6l-2.7 -.5l-2.6 -.6l-2.7 -.6l-2.6 -.5l-2.7 -.6l-2.6 -.5l-2.6 -.5l-2.6 -.6l-2.6 -.5l-2.6 -.5l-2.5 -.6l-2.6 -.5l-2.6 -.5l-2.6 -.6l-2.6 -.5l-2.6 -.5l-2.6 -.5l-2.6 -.6l-2.6 -.5l-2.6 -.5l-2.6 -.6l-2.6 -.5l-2.6 -.6l-2.6 -.5l-2.6 -.5l-2.6 -.5l-2.6 -.5l-2.6 -.4l-2.7 -.5l-2.6 -.4l-2.7 -.4l-2.7 -.4l-2.8 -.4l-2.6 -.4l-2.7 -.3l-2.6 -.4l-2.5 -.2l-2.5 -.3l-2.3 -.2l-3 -.3l-2.7 -.1l-2.6 -.1l-2.5 -.1l-2.5 0l-2.6 0l-2.7 .1l-3 .1l-2.4 0l-2.5 .2l-2.6 .1l-2.8 .2l-2.7 .2l-2.8 .3l-2.8 .2l-2.6 .3l-2.6 .3l-2.5 .3l-2.3 .3l-2.9 .4l-2.7 .4l-2.6 .4l-2.4 .5l-2.3 .4l-2.3 .5l-2.3 .4l-2.5 .4zM939.3 589.5l2.6 -.1l2.6 -.1l2.6 -.2l2.5 -.1l2.6 -.1l2.6 -.1l2.6 -.1l2.6 .1l2.6 0l2.7 .1l2.6 .1l2.7 .2l2.7 .2l2.7 .2l2.6 .2l2.7 .3l2.6 .2l2.6 .4l2.5 .3l2.5 .4l2.6 .4l2.7 .5l2.8 .5l3 .5l2.4 .5l2.4 .4l2.5 .5l2.6 .5l2.6 .5l2.7 .6l2.7 .5l2.7 .6l2.7 .5l2.7 .6l2.6 .5l2.6 .6l2.6 .6l2.6 .5l2.6 .6l2.5 .6l2.6 .6l2.6 .6l2.6 .6l2.6 .6l2.6 .6l2.6 .6l2.7 .6l2.6 .5l2.7 .6l2.7 .6l2.7 .6l2.6 .6l2.7 .6l2.5 .5l2.6 .6l2.5 .5l2.3 .5l2.8 .6l2.7 .6l2.6 .6l2.5 .5l2.5 .6l2.4 .5l2.5 .5l2.4 .6l2.6 .5l.3 -1.4l-2.5 -.6l-2.5 -.6l-2.4 -.6l-2.4 -.6l-2.5 -.6l-2.5 -.7l-2.5 -.6l-2.7 -.6l-2.8 -.7l-2.4 -.6l-2.4 -.5l-2.6 -.6l-2.5 -.6l-2.7 -.7l-2.6 -.6l-2.7 -.6l-2.7 -.6l-2.7 -.6l-2.6 -.6l-2.6 -.6l-2.6 -.6l-2.6 -.6l-2.6 -.6l-2.6 -.6l-2.6 -.6l-2.6 -.5l-2.6 -.6l-2.6 -.6l-2.6 -.6l-2.6 -.6l-2.6 -.5l-2.6 -.6l-2.7 -.5l-2.7 -.6l-2.7 -.6l-2.7 -.5l-2.7 -.6l-2.6 -.5l-2.6 -.5l-2.6 -.5l-2.4 -.4l-2.3 -.4l-3.1 -.6l-2.8 -.5l-2.7 -.5l-2.6 -.4l-2.6 -.4l-2.5 -.3l-2.6 -.4l-2.7 -.2l-2.7 -.3l-2.7 -.2l-2.7 -.1l-2.7 -.2l-2.7 0l-2.7 0l-2.7 0l-2.6 .1l-2.7 .1l-2.6 .2l-2.6 .2l-2.6 .3l-2.5 .3l-2.6 .4l-2.6 .3l-2.5 .2zM903.9 571.3l2.1 1.3l2 1.4l2 1.3l2.1 1.3l2.1 1.4l2.3 1.6l2 1.4l2.1 1.5l2.1 1.5l2.2 1.6l2.3 1.7l2.4 1.8l2.4 1.9l1.9 1.5l1.9 1.6l1.9 1.7l2.1 1.7l2 1.8l2.1 1.8l2.1 1.8l2 1.8l2 1.8l2 1.6l2.1 1.9l2.1 1.8l2.1 1.8l2.1 1.8l2.1 1.8l2 1.7l2.1 1.7l2 1.7l2 1.6l2.3 1.8l2.4 1.9l2.4 1.8l2.4 1.7l2.3 1.7l2 1.5l1.9 1.4l1.5 1.1l2.9 2.2l1.4 .9l1.5 -2.1l-1.3 -1l-2.9 -2.1l-1.6 -1.2l-1.8 -1.3l-2.1 -1.5l-2.2 -1.7l-2.4 -1.7l-2.4 -1.9l-2.4 -1.8l-2.2 -1.8l-2 -1.6l-2 -1.6l-2.1 -1.7l-2 -1.8l-2.1 -1.7l-2 -1.8l-2.1 -1.8l-2.1 -1.8l-2.2 -1.9l-1.9 -1.6l-2.1 -1.8l-2 -1.8l-2.1 -1.8l-2.1 -1.8l-2 -1.8l-2.1 -1.7l-1.9 -1.7l-2 -1.6l-1.8 -1.5l-2.5 -2l-2.4 -1.8l-2.3 -1.8l-2.3 -1.6l-2.2 -1.5l-2.1 -1.4l-2.1 -1.4l-2.3 -1.4l-2.3 -1.3l-2.2 -1.2l-2.1 -1.2l-2.1 -1.1l-2.2 -1.2zM898.6 596.5l1.8 1.8l1.8 1.8l1.8 1.7l1.9 1.7l1.9 1.6l1.9 1.7l2 1.7l2 1.7l2.1 1.9l2 1.8l2.1 1.9l2.1 1.9l2 1.8l2 1.8l2.2 2l2.3 2.1l2.3 2l2.1 1.9l2.1 1.8l1.8 1.7l2.5 2.1l2.1 1.8l2 1.7l2 1.8l2.3 -2.7l-2 -1.7l-2 -1.7l-2.1 -1.9l-2.4 -2.1l-1.9 -1.6l-2 -1.8l-2.2 -2l-2.2 -2l-2.3 -2l-2.3 -2l-1.9 -1.8l-2.1 -1.8l-2 -1.9l-2.1 -1.9l-2.1 -1.9l-2.1 -1.8l-2 -1.8l-2 -1.7l-1.9 -1.7l-2 -1.6l-2 -1.5l-2 -1.5l-2.1 -1.4l-2 -1.5zM921.4 615l-2 1.8l-1.9 1.8l-1.9 1.9l-1.9 2l-2 2.2l-1.8 1.9l-1.8 2.1l-2 2.1l-1.9 2.2l-2 2.1l-1.9 2.2l2.3 2l1.9 -2.1l2 -2.2l1.9 -2.1l1.9 -2.1l1.9 -2.1l1.8 -1.9l2 -2.2l1.8 -2l1.8 -2.1l1.6 -2l1.7 -2.1zM926.8 621.3l-1.8 2.6l-1.7 2.7l-1.8 2.7l-1.8 2.6l-1.8 2.6l-1.7 2.7l3.3 2.1l1.7 -2.8l1.6 -2.8l1.4 -3l1.2 -3l1.1 -3.1l1 -3z"/>
<path fill="none" stroke="#4b4b4a" stroke-width="1" d="M792.1 595.8L791.2 614.6M798.3 593.5L797.5 612.3M804.6 588.4L803.7 610M811.4 584.4L810.6 607.2M819.4 580.4L818.5 604.3M828.5 576.4L827.6 602.1M837.6 573L836.7 600.3M847.3 570.2L846.4 597.5M857 568.5L856.1 592.9M866.6 567.3L865.8 585.5M876.3 566.4L875.5 576.4M921.1 565L920.3 578.6M935.4 564.3L934.6 585.7M950.4 564.3L949.6 585.7M965 564.3L964.1 585.7M979 565L978.1 586.4M994 567.9L993.1 587.9M1009.7 570.7L1008.9 590.7M1024.7 573.6L1023.9 593.6M1039.7 576.4L1038.9 596.4M1053.6 579.3L1052.7 600M1067.3 582.1L1066.4 602.9M1081.1 584.6L1080.3 606.4M1094 586.4L1093.1 608.6M1105.9 587.9L1105 611.4M912.9 577.9L902.9 592.9M924.3 586.4L914.3 602.9M937.1 596.4L926.4 612.9M950.7 607.1L940 623.6M963.6 617.1L952.9 635.7M975.7 628.6L970.7 636.4"/>
</g>
<rect x="71.5" y="188.6" width="429.5" height="453.2" fill="none" stroke="#ffcb05" stroke-width="4"/>
<rect x="706" y="188.6" width="429.5" height="453.2" fill="none" stroke="#ffcb05" stroke-width="4"/>
<rect x="1337.6" y="188.6" width="588.7" height="453.2" fill="none" stroke="#ffcb05" stroke-width="4"/>
<circle cx="73.9" cy="644.8" r="40" fill="#ffcb05"/>
<circle cx="704.5" cy="644.8" r="40" fill="#ffcb05"/>
<circle cx="1334.9" cy="644.8" r="40" fill="#ffcb05"/>
<clipPath id="k1"><path d="M50 600H100V651H50zM67.2 651H74.2V665H67.2zM81.3 645H100V665H81.3z"/></clipPath>
<text x="58.78" y="657.2" font-size="47.7" fill="#fff" textLength="33.61" lengthAdjust="spacingAndGlyphs" clip-path="url(#k1)" stroke="#fff" stroke-width="3.4" stroke-linejoin="round">1.</text>
<text x="685.04" y="660.6" font-size="53.5" font-weight="700" fill="#fff" textLength="43.34" lengthAdjust="spacingAndGlyphs">2.</text>
<text x="1316.93" y="660.9" font-size="53.5" font-weight="700" fill="#fff" textLength="40.64" lengthAdjust="spacingAndGlyphs">3.</text>
<clipPath id="nf1"><path d="M1368.2 235.0H1600.6V284.2H1368.2zM1383.9 284.2H1390.3V304.3H1383.9zM1398.5 284.2H1422.9V304.3H1398.5zM1422.9 284.2H1437.5V304.3H1422.9zM1447.3 284.2H1453.6V304.3H1447.3zM1461.9 284.2H1486.3V304.3H1461.9zM1486.3 284.2H1498.4V304.3H1486.3zM1498.4 284.2H1520.4V304.3H1498.4zM1520.4 284.2H1556.9V304.3H1520.4zM1556.9 284.2H1569.0V304.3H1556.9zM1569.0 284.2H1600.6V304.3H1569.0z"/></clipPath>
<text x="1374.16" y="289.45" font-size="49.51" fill="#000" textLength="220.48" lengthAdjust="spacingAndGlyphs" stroke="#fff" stroke-width="0.9" clip-path="url(#nf1)">14-16 cm &gt;</text>
<text x="1604.73" y="289.0" font-size="48.7" font-weight="700" fill="#000" textLength="130.11" lengthAdjust="spacingAndGlyphs">Cup B</text>
<clipPath id="nf2"><path d="M1368.2 308.6H1606.1V357.8H1368.2zM1383.8 357.8H1390.0V377.9H1383.8zM1398.1 357.8H1422.1V377.9H1398.1zM1422.1 357.8H1446.0V377.9H1422.1zM1455.5 357.8H1461.8V377.9H1455.5zM1469.9 357.8H1493.8V377.9H1469.9zM1493.8 357.8H1505.7V377.9H1493.8zM1505.7 357.8H1527.2V377.9H1505.7zM1527.2 357.8H1563.1V377.9H1527.2zM1563.1 357.8H1575.0V377.9H1563.1zM1575.0 357.8H1606.1V377.9H1575.0z"/></clipPath>
<text x="1374.23" y="363.05" font-size="49.51" fill="#000" textLength="225.9" lengthAdjust="spacingAndGlyphs" stroke="#fff" stroke-width="0.9" clip-path="url(#nf2)">17–19 cm &gt;</text>
<text x="1610.89" y="362.6" font-size="48.7" font-weight="700" fill="#000" textLength="133.53" lengthAdjust="spacingAndGlyphs">Cup C</text>
<clipPath id="nf3"><path d="M1363.2 381.6H1618.7V430.8H1363.2zM1363.2 430.8H1395.0V450.9H1363.2zM1395.0 430.8H1420.8V450.9H1395.0zM1420.8 430.8H1446.5V450.9H1420.8zM1446.5 430.8H1472.3V450.9H1446.5zM1482.7 430.8H1489.3V450.9H1482.7zM1498.1 430.8H1511.0V450.9H1498.1zM1511.0 430.8H1534.1V450.9H1511.0zM1534.1 430.8H1572.7V450.9H1534.1zM1572.7 430.8H1585.6V450.9H1572.7zM1585.6 430.8H1618.7V450.9H1585.6z"/></clipPath>
<text x="1369.23" y="436.05" font-size="49.51" fill="#000" textLength="243.43" lengthAdjust="spacingAndGlyphs" stroke="#fff" stroke-width="0.9" clip-path="url(#nf3)">20–21 cm &gt;</text>
<text x="1623.26" y="435.6" font-size="48.7" font-weight="700" fill="#000" textLength="135.33" lengthAdjust="spacingAndGlyphs">Cup D</text>
<text x="1369.26" y="508.05" font-size="49.51" fill="#000" textLength="240.89" lengthAdjust="spacingAndGlyphs" stroke="#fff" stroke-width="0.9">22–24 cm &gt;</text>
<text x="1620.84" y="507.6" font-size="48.7" font-weight="700" fill="#000" textLength="232.13" lengthAdjust="spacingAndGlyphs">Cup E (DD)</text>
<text x="1369.23" y="580.75" font-size="49.51" fill="#000" textLength="244.04" lengthAdjust="spacingAndGlyphs" stroke="#fff" stroke-width="0.9">25–27 cm &gt;</text>
<text x="1624.5" y="580.3" font-size="48.7" font-weight="700" fill="#000" textLength="266.75" lengthAdjust="spacingAndGlyphs">Cup F (DDD)</text>
<text x="70.3" y="735.62" font-size="48.07" font-weight="700" fill="#000" textLength="415.52" lengthAdjust="spacingAndGlyphs" stroke="#000" stroke-width="0.56" stroke-linejoin="round">Chest circumference</text>
<text x="67.98" y="791.65" font-size="49.01" fill="#000" textLength="528.4" lengthAdjust="spacingAndGlyphs" stroke="#fff" stroke-width="0.9">Measure around the fullest</text>
<text x="68.86" y="847.45" font-size="49.01" fill="#000" textLength="380.71" lengthAdjust="spacingAndGlyphs" stroke="#fff" stroke-width="0.9">part of the bustline.</text>
<text x="70.4" y="929.19" font-size="48.23" font-weight="700" fill="#1491d9" textLength="208.01" lengthAdjust="spacingAndGlyphs" stroke="#1491d9" stroke-width="0.42" stroke-linejoin="round">e.g. 96 cm</text>
<text x="704.91" y="735.7" font-size="48.25" font-weight="700" fill="#000" textLength="509.35" lengthAdjust="spacingAndGlyphs" stroke="#000" stroke-width="0.4" stroke-linejoin="round">Underbust measurement</text>
<text x="703.18" y="791.65" font-size="49.01" fill="#000" textLength="557.19" lengthAdjust="spacingAndGlyphs" stroke="#fff" stroke-width="0.9">Measure around your body,</text>
<text x="705.95" y="847.45" font-size="49.01" fill="#000" textLength="461.26" lengthAdjust="spacingAndGlyphs" stroke="#fff" stroke-width="0.9">just below your breasts.</text>
<text x="704.86" y="925.3" font-size="48.7" font-weight="700" fill="#1491d9" textLength="75.92" lengthAdjust="spacingAndGlyphs">e.g.</text>
<text x="811.68" y="925" font-size="48.7" font-weight="700" fill="#1491d9" textLength="124.99" lengthAdjust="spacingAndGlyphs">80 cm</text>
<ellipse cx="871.2" cy="910.6" rx="77.8" ry="39.6" fill="none" stroke="#1491d9" stroke-width="4.4"/>
<text x="1337.31" y="735.32" font-size="48.06" font-weight="700" fill="#000" textLength="172.14" lengthAdjust="spacingAndGlyphs" stroke="#000" stroke-width="0.57" stroke-linejoin="round">Cup size</text>
<text x="1336.06" y="791.45" font-size="49.01" fill="#000" textLength="528.67" lengthAdjust="spacingAndGlyphs" stroke="#fff" stroke-width="0.9">Cup size calculation: Chest</text>
<text x="1336.51" y="847.65" font-size="49.01" fill="#000" textLength="607.39" lengthAdjust="spacingAndGlyphs" stroke="#fff" stroke-width="0.9">circumference minus underbust</text>
<text x="1336.1" y="903.25" font-size="49.01" fill="#000" textLength="280.36" lengthAdjust="spacingAndGlyphs" stroke="#fff" stroke-width="0.9">measurement.</text>
<clipPath id="nf4"><path d="M1331.1 927.7H1896.1V974.7H1331.1zM1331.1 974.7H1361.2V995.3H1331.1zM1361.2 974.7H1373.2V995.3H1361.2zM1373.2 974.7H1399.7V995.3H1373.2zM1399.7 974.7H1411.8V995.3H1399.7zM1411.8 974.7H1423.8V995.3H1411.8zM1423.8 974.7H1447.9V995.3H1423.8zM1447.9 974.7H1472.0V995.3H1447.9zM1472.0 974.7H1484.1V995.3H1472.0zM1484.1 974.7H1508.2V995.3H1484.1zM1508.2 974.7H1546.7V995.3H1508.2zM1546.7 974.7H1558.8V995.3H1546.7zM1558.8 974.7H1582.9V995.3H1558.8zM1582.9 974.7H1594.9V995.3H1582.9zM1594.9 974.7H1619.0V995.3H1594.9zM1619.0 974.7H1643.1V995.3H1619.0zM1643.1 974.7H1655.2V995.3H1643.1zM1655.2 974.7H1679.3V995.3H1655.2zM1679.3 974.7H1717.8V995.3H1679.3zM1717.8 974.7H1729.9V995.3H1717.8zM1729.9 974.7H1755.2V995.3H1729.9zM1755.2 974.7H1767.2V995.3H1755.2zM1776.5 974.7H1784.2V995.3H1776.5zM1791.3 974.7H1815.4V995.3H1791.3zM1815.4 974.7H1827.5V995.3H1815.4zM1827.5 974.7H1851.6V995.3H1827.5zM1851.6 974.7H1896.1V995.3H1851.6z"/></clipPath>
<text x="1337.08" y="980.8" font-size="48.26" font-weight="700" fill="#1491d9" textLength="553.05" lengthAdjust="spacingAndGlyphs" stroke="#1491d9" stroke-width="0.39" stroke-linejoin="round" clip-path="url(#nf4)">e.g. 96 cm – 80 cm = 16 cm</text>
<path d="M1337 1039.3H1412L1405.6 1030.2Q1424 1039 1445 1044Q1424 1049 1405.6 1057.7L1412 1048.7H1337z" fill="#1491d9"/>
<text x="1489.6" y="1054.12" font-size="48.09" font-weight="700" fill="#1491d9" textLength="123.47" lengthAdjust="spacingAndGlyphs" stroke="#1491d9" stroke-width="0.55" stroke-linejoin="round">Cup B</text>
<ellipse cx="1551.5" cy="1041.7" rx="78" ry="39.2" fill="none" stroke="#1491d9" stroke-width="4.4"/>
<rect x="103.8" y="1025" width="1136.2" height="168" fill="#fdfdfd"/>
<rect x="103.8" y="1193.0" width="1136.2" height="84.6" fill="#888b8e"/>
<rect x="103.8" y="1277.6" width="1136.2" height="84.6" fill="#888b8e"/>
<rect x="103.8" y="1277.6" width="138.9" height="84.6" fill="#636363"/>
<rect x="247.3" y="1277.6" width="140.2" height="84.6" fill="#636363"/>
<rect x="387.5" y="1277.6" width="140.0" height="84.6" fill="#636363"/>
<rect x="532.2" y="1277.6" width="137.4" height="84.6" fill="#636363"/>
<rect x="674.4" y="1277.6" width="137.6" height="84.6" fill="#636363"/>
<rect x="816.6" y="1277.6" width="137.8" height="84.6" fill="#636363"/>
<rect x="959.1" y="1277.6" width="137.5" height="84.6" fill="#636363"/>
<rect x="1101.3" y="1277.6" width="138.7" height="84.6" fill="#636363"/>
<rect x="103.8" y="1362.2" width="1136.2" height="84.6" fill="#888b8e"/>
<rect x="103.8" y="1446.8" width="1136.2" height="84.6" fill="#888b8e"/>
<rect x="103.8" y="1446.8" width="138.9" height="84.6" fill="#636363"/>
<rect x="247.3" y="1446.8" width="140.2" height="84.6" fill="#636363"/>
<rect x="387.5" y="1446.8" width="140.0" height="84.6" fill="#636363"/>
<rect x="532.2" y="1446.8" width="137.4" height="84.6" fill="#636363"/>
<rect x="674.4" y="1446.8" width="137.6" height="84.6" fill="#636363"/>
<rect x="816.6" y="1446.8" width="137.8" height="84.6" fill="#636363"/>
<rect x="959.1" y="1446.8" width="137.5" height="84.6" fill="#636363"/>
<rect x="1101.3" y="1446.8" width="138.7" height="84.6" fill="#636363"/>
<rect x="103.8" y="1531.4" width="1136.2" height="84.6" fill="#888b8e"/>
<rect x="103.8" y="1616.0" width="1136.2" height="84.6" fill="#888b8e"/>
<rect x="103.8" y="1616.0" width="138.9" height="84.6" fill="#636363"/>
<rect x="247.3" y="1616.0" width="140.2" height="84.6" fill="#636363"/>
<rect x="387.5" y="1616.0" width="140.0" height="84.6" fill="#636363"/>
<rect x="532.2" y="1616.0" width="137.4" height="84.6" fill="#636363"/>
<rect x="674.4" y="1616.0" width="137.6" height="84.6" fill="#636363"/>
<rect x="816.6" y="1616.0" width="137.8" height="84.6" fill="#636363"/>
<rect x="959.1" y="1616.0" width="137.5" height="84.6" fill="#636363"/>
<rect x="1101.3" y="1616.0" width="138.7" height="84.6" fill="#636363"/>
<rect x="103.8" y="1700.6" width="1136.2" height="84.6" fill="#888b8e"/>
<rect x="103.8" y="1785.2" width="1136.2" height="84.6" fill="#888b8e"/>
<rect x="103.8" y="1785.2" width="138.9" height="84.6" fill="#636363"/>
<rect x="247.3" y="1785.2" width="140.2" height="84.6" fill="#636363"/>
<rect x="387.5" y="1785.2" width="140.0" height="84.6" fill="#636363"/>
<rect x="532.2" y="1785.2" width="137.4" height="84.6" fill="#636363"/>
<rect x="674.4" y="1785.2" width="137.6" height="84.6" fill="#636363"/>
<rect x="816.6" y="1785.2" width="137.8" height="84.6" fill="#636363"/>
<rect x="959.1" y="1785.2" width="137.5" height="84.6" fill="#636363"/>
<rect x="1101.3" y="1785.2" width="138.7" height="84.6" fill="#636363"/>
<rect x="103.8" y="1869.8" width="1136.2" height="84.20000000000005" fill="#888b8e"/>
<rect x="243" y="1025" width="4" height="168" fill="#888b8e"/>
<rect x="527.9" y="1025" width="4" height="168" fill="#888b8e"/>
<rect x="670" y="1025" width="4" height="168" fill="#888b8e"/>
<rect x="812.3" y="1025" width="4" height="168" fill="#888b8e"/>
<rect x="954.8" y="1025" width="4" height="168" fill="#888b8e"/>
<rect x="1097" y="1025" width="4" height="168" fill="#888b8e"/>
<rect x="103.8" y="1104" width="1136.2" height="8" fill="#ffcb05"/>
<rect x="383.4" y="1025" width="8.2" height="929" fill="#ffcb05"/>
<text transform="translate(93.7 1814.4) rotate(-90)" font-size="50.6" fill="#888b8e" stroke="#888b8e" stroke-width="2.4" stroke-linejoin="round" textLength="649.6" lengthAdjust="spacingAndGlyphs">UNDERBUST MEASUREMENT</text>
<text x="113.31" y="1082.4" font-size="41.9" font-weight="700" fill="#000" textLength="120.95" lengthAdjust="spacingAndGlyphs">UK/AU</text>
<text x="292.64" y="1167.62" font-size="41.06" font-weight="700" fill="#000" textLength="47.72" lengthAdjust="spacingAndGlyphs" stroke="#000" stroke-width="0.75" stroke-linejoin="round">EU</text>
<text x="448.58" y="1081.98" font-size="40.95" font-weight="700" fill="#000" textLength="23.78" lengthAdjust="spacingAndGlyphs" stroke="#000" stroke-width="0.85" stroke-linejoin="round">B</text>
<text x="580.24" y="1082.4" font-size="41.9" font-weight="700" fill="#000" textLength="28.23" lengthAdjust="spacingAndGlyphs">C</text>
<text x="726.65" y="1082.4" font-size="41.9" font-weight="700" fill="#000" textLength="30.52" lengthAdjust="spacingAndGlyphs">D</text>
<text x="855.01" y="1082.4" font-size="41.9" font-weight="700" fill="#000" textLength="57.56" lengthAdjust="spacingAndGlyphs">DD</text>
<text x="1016.86" y="1081.8" font-size="40.55" font-weight="700" fill="#000" textLength="19.94" lengthAdjust="spacingAndGlyphs" stroke="#000" stroke-width="1.21" stroke-linejoin="round">E</text>
<text x="1155.91" y="1082.07" font-size="41.15" font-weight="700" fill="#000" textLength="20.88" lengthAdjust="spacingAndGlyphs" stroke="#000" stroke-width="0.67" stroke-linejoin="round">F</text>
<text x="448.58" y="1167.58" font-size="40.95" font-weight="700" fill="#000" textLength="23.78" lengthAdjust="spacingAndGlyphs" stroke="#000" stroke-width="0.85" stroke-linejoin="round">B</text>
<text x="580.24" y="1168" font-size="41.9" font-weight="700" fill="#000" textLength="28.23" lengthAdjust="spacingAndGlyphs">C</text>
<text x="726.65" y="1168" font-size="41.9" font-weight="700" fill="#000" textLength="30.52" lengthAdjust="spacingAndGlyphs">D</text>
<text x="872.76" y="1167.39" font-size="40.55" font-weight="700" fill="#000" textLength="19.94" lengthAdjust="spacingAndGlyphs" stroke="#000" stroke-width="1.21" stroke-linejoin="round">E</text>
<text x="1016.31" y="1167.66" font-size="41.15" font-weight="700" fill="#000" textLength="20.88" lengthAdjust="spacingAndGlyphs" stroke="#000" stroke-width="0.67" stroke-linejoin="round">F</text>
<text x="1149.98" y="1168" font-size="41.9" font-weight="700" fill="#000" textLength="35.46" lengthAdjust="spacingAndGlyphs">G</text>
<text x="151.23" y="1252.6" font-size="48" font-weight="700" fill="#fff" textLength="48.29" lengthAdjust="spacingAndGlyphs">32</text>
<text x="292.28" y="1256.02" font-size="47.59" font-weight="700" fill="#fff" textLength="47.32" lengthAdjust="spacingAndGlyphs" stroke="#fff" stroke-width="0.37" stroke-linejoin="round">70</text>
<text x="151.51" y="1336.96" font-size="47.45" font-weight="700" fill="#fff" textLength="46.24" lengthAdjust="spacingAndGlyphs" stroke="#fff" stroke-width="0.49" stroke-linejoin="round">34</text>
<text x="292.33" y="1340.59" font-size="47.53" font-weight="700" fill="#fff" textLength="46.81" lengthAdjust="spacingAndGlyphs" stroke="#fff" stroke-width="0.42" stroke-linejoin="round">75</text>
<text x="151.23" y="1421.8" font-size="48" font-weight="700" fill="#fff" textLength="48.29" lengthAdjust="spacingAndGlyphs">36</text>
<text x="292.75" y="1425.19" font-size="47.53" font-weight="700" fill="#fff" textLength="46.81" lengthAdjust="spacingAndGlyphs" stroke="#fff" stroke-width="0.42" stroke-linejoin="round">80</text>
<text x="151.42" y="1506.23" font-size="47.61" font-weight="700" fill="#fff" textLength="47.47" lengthAdjust="spacingAndGlyphs" stroke="#fff" stroke-width="0.35" stroke-linejoin="round">38</text>
<text x="292.79" y="1509.76" font-size="47.46" font-weight="700" fill="#fff" textLength="46.31" lengthAdjust="spacingAndGlyphs" stroke="#fff" stroke-width="0.48" stroke-linejoin="round">85</text>
<text x="150.21" y="1591.0" font-size="48" font-weight="700" fill="#fff" textLength="51.0" lengthAdjust="spacingAndGlyphs">40</text>
<text x="292.75" y="1594.39" font-size="47.53" font-weight="700" fill="#fff" textLength="46.81" lengthAdjust="spacingAndGlyphs" stroke="#fff" stroke-width="0.42" stroke-linejoin="round">90</text>
<text x="150.23" y="1675.6" font-size="48" font-weight="700" fill="#fff" textLength="49.32" lengthAdjust="spacingAndGlyphs">42</text>
<text x="292.79" y="1678.96" font-size="47.46" font-weight="700" fill="#fff" textLength="46.31" lengthAdjust="spacingAndGlyphs" stroke="#fff" stroke-width="0.48" stroke-linejoin="round">95</text>
<text x="150.23" y="1760.2" font-size="48" font-weight="700" fill="#fff" textLength="49.37" lengthAdjust="spacingAndGlyphs">44</text>
<clipPath id="nf5"><path d="M273.0 1707.0H359.1V1754.0H273.0zM288.7 1754.0H296.2V1774.2H288.7zM303.7 1754.0H328.4V1774.2H303.7zM328.4 1754.0H359.1V1774.2H328.4z"/></clipPath>
<text x="279.04" y="1759.8" font-size="48" font-weight="700" fill="#fff" textLength="74.07" lengthAdjust="spacingAndGlyphs" clip-path="url(#nf5)">100</text>
<text x="150.21" y="1844.8" font-size="48" font-weight="700" fill="#fff" textLength="51.0" lengthAdjust="spacingAndGlyphs">46</text>
<clipPath id="nf6"><path d="M273.1 1791.4H357.2V1838.4H273.1zM288.5 1838.4H295.9V1858.6H288.5zM303.2 1838.4H327.2V1858.6H303.2zM327.2 1838.4H357.2V1858.6H327.2z"/></clipPath>
<text x="279.11" y="1844.2" font-size="48" font-weight="700" fill="#fff" textLength="72.13" lengthAdjust="spacingAndGlyphs" clip-path="url(#nf6)">105</text>
<text x="150.22" y="1932.4" font-size="48" font-weight="700" fill="#fff" textLength="50.52" lengthAdjust="spacingAndGlyphs">48</text>
<clipPath id="nf7"><path d="M272.9 1879.6H359.2V1926.6H272.9zM289.0 1926.6H296.7V1946.8H289.0zM314.6 1926.6H322.3V1946.8H314.6zM327.6 1926.6H359.2V1946.8H327.6z"/></clipPath>
<text x="278.94" y="1932.4" font-size="48" font-weight="700" fill="#fff" textLength="74.23" lengthAdjust="spacingAndGlyphs" clip-path="url(#nf7)">110</text>
<text x="589.32" y="1255.43" font-size="45.23" font-weight="700" fill="#fff" textLength="22.78" lengthAdjust="spacingAndGlyphs" stroke="#fff" stroke-width="1.14" stroke-linejoin="round">S</text>
<text x="731.12" y="1255.43" font-size="45.23" font-weight="700" fill="#fff" textLength="22.78" lengthAdjust="spacingAndGlyphs" stroke="#fff" stroke-width="1.14" stroke-linejoin="round">S</text>
<text x="862.0" y="1256.0" font-size="46.5" font-weight="700" fill="#fff" textLength="46.08" lengthAdjust="spacingAndGlyphs">M</text>
<text x="1003.9" y="1256.0" font-size="46.5" font-weight="700" fill="#fff" textLength="46.08" lengthAdjust="spacingAndGlyphs">M</text>
<text x="449.02" y="1339.53" font-size="45.23" font-weight="700" fill="#fff" textLength="22.78" lengthAdjust="spacingAndGlyphs" stroke="#fff" stroke-width="1.14" stroke-linejoin="round">S</text>
<text x="589.32" y="1339.53" font-size="45.23" font-weight="700" fill="#fff" textLength="22.78" lengthAdjust="spacingAndGlyphs" stroke="#fff" stroke-width="1.14" stroke-linejoin="round">S</text>
<text x="719.2" y="1340.1" font-size="46.5" font-weight="700" fill="#fff" textLength="46.08" lengthAdjust="spacingAndGlyphs">M</text>
<text x="862.0" y="1340.1" font-size="46.5" font-weight="700" fill="#fff" textLength="46.08" lengthAdjust="spacingAndGlyphs">M</text>
<text x="1017.19" y="1339.43" font-size="45.0" font-weight="700" fill="#fff" textLength="19.57" lengthAdjust="spacingAndGlyphs" stroke="#fff" stroke-width="1.34" stroke-linejoin="round">L</text>
<text x="1156.99" y="1339.43" font-size="45.0" font-weight="700" fill="#fff" textLength="19.57" lengthAdjust="spacingAndGlyphs" stroke="#fff" stroke-width="1.34" stroke-linejoin="round">L</text>
<text x="449.02" y="1423.63" font-size="45.23" font-weight="700" fill="#fff" textLength="22.78" lengthAdjust="spacingAndGlyphs" stroke="#fff" stroke-width="1.14" stroke-linejoin="round">S</text>
<text x="577.4" y="1424.2" font-size="46.5" font-weight="700" fill="#fff" textLength="46.08" lengthAdjust="spacingAndGlyphs">M</text>
<text x="719.2" y="1424.2" font-size="46.5" font-weight="700" fill="#fff" textLength="46.08" lengthAdjust="spacingAndGlyphs">M</text>
<text x="875.29" y="1423.53" font-size="45.0" font-weight="700" fill="#fff" textLength="19.57" lengthAdjust="spacingAndGlyphs" stroke="#fff" stroke-width="1.34" stroke-linejoin="round">L</text>
<text x="1017.19" y="1423.53" font-size="45.0" font-weight="700" fill="#fff" textLength="19.57" lengthAdjust="spacingAndGlyphs" stroke="#fff" stroke-width="1.34" stroke-linejoin="round">L</text>
<text x="1156.99" y="1423.53" font-size="45.0" font-weight="700" fill="#fff" textLength="19.57" lengthAdjust="spacingAndGlyphs" stroke="#fff" stroke-width="1.34" stroke-linejoin="round">L</text>
<text x="437.1" y="1508.3" font-size="46.5" font-weight="700" fill="#fff" textLength="46.08" lengthAdjust="spacingAndGlyphs">M</text>
<text x="577.4" y="1508.3" font-size="46.5" font-weight="700" fill="#fff" textLength="46.08" lengthAdjust="spacingAndGlyphs">M</text>
<text x="732.49" y="1507.63" font-size="45.0" font-weight="700" fill="#fff" textLength="19.57" lengthAdjust="spacingAndGlyphs" stroke="#fff" stroke-width="1.34" stroke-linejoin="round">L</text>
<text x="875.29" y="1507.63" font-size="45.0" font-weight="700" fill="#fff" textLength="19.57" lengthAdjust="spacingAndGlyphs" stroke="#fff" stroke-width="1.34" stroke-linejoin="round">L</text>
<text x="1003.99" y="1507.83" font-size="45.45" font-weight="700" fill="#fff" textLength="46.87" lengthAdjust="spacingAndGlyphs" stroke="#fff" stroke-width="0.94" stroke-linejoin="round">XL</text>
<text x="1143.79" y="1507.83" font-size="45.45" font-weight="700" fill="#fff" textLength="46.87" lengthAdjust="spacingAndGlyphs" stroke="#fff" stroke-width="0.94" stroke-linejoin="round">XL</text>
<text x="590.69" y="1591.73" font-size="45.0" font-weight="700" fill="#fff" textLength="19.57" lengthAdjust="spacingAndGlyphs" stroke="#fff" stroke-width="1.34" stroke-linejoin="round">L</text>
<text x="732.49" y="1591.73" font-size="45.0" font-weight="700" fill="#fff" textLength="19.57" lengthAdjust="spacingAndGlyphs" stroke="#fff" stroke-width="1.34" stroke-linejoin="round">L</text>
<text x="862.09" y="1591.93" font-size="45.45" font-weight="700" fill="#fff" textLength="46.87" lengthAdjust="spacingAndGlyphs" stroke="#fff" stroke-width="0.94" stroke-linejoin="round">XL</text>
<text x="1003.99" y="1591.93" font-size="45.45" font-weight="700" fill="#fff" textLength="46.87" lengthAdjust="spacingAndGlyphs" stroke="#fff" stroke-width="0.94" stroke-linejoin="round">XL</text>
<text x="1143.79" y="1591.93" font-size="45.45" font-weight="700" fill="#fff" textLength="46.87" lengthAdjust="spacingAndGlyphs" stroke="#fff" stroke-width="0.94" stroke-linejoin="round">XL</text>
<text x="577.49" y="1676.03" font-size="45.45" font-weight="700" fill="#fff" textLength="46.87" lengthAdjust="spacingAndGlyphs" stroke="#fff" stroke-width="0.94" stroke-linejoin="round">XL</text>
<text x="719.29" y="1676.03" font-size="45.45" font-weight="700" fill="#fff" textLength="46.87" lengthAdjust="spacingAndGlyphs" stroke="#fff" stroke-width="0.94" stroke-linejoin="round">XL</text>
<text x="862.09" y="1676.03" font-size="45.45" font-weight="700" fill="#fff" textLength="46.87" lengthAdjust="spacingAndGlyphs" stroke="#fff" stroke-width="0.94" stroke-linejoin="round">XL</text>
<text x="990.3" y="1676.11" font-size="45.62" font-weight="700" fill="#fff" textLength="74.15" lengthAdjust="spacingAndGlyphs" stroke="#fff" stroke-width="0.79" stroke-linejoin="round">XXL</text>
<text x="1130.1" y="1676.11" font-size="45.62" font-weight="700" fill="#fff" textLength="74.15" lengthAdjust="spacingAndGlyphs" stroke="#fff" stroke-width="0.79" stroke-linejoin="round">XXL</text>
<text x="577.49" y="1760.13" font-size="45.45" font-weight="700" fill="#fff" textLength="46.87" lengthAdjust="spacingAndGlyphs" stroke="#fff" stroke-width="0.94" stroke-linejoin="round">XL</text>
<text x="719.29" y="1760.13" font-size="45.45" font-weight="700" fill="#fff" textLength="46.87" lengthAdjust="spacingAndGlyphs" stroke="#fff" stroke-width="0.94" stroke-linejoin="round">XL</text>
<text x="848.4" y="1760.2" font-size="45.62" font-weight="700" fill="#fff" textLength="74.15" lengthAdjust="spacingAndGlyphs" stroke="#fff" stroke-width="0.79" stroke-linejoin="round">XXL</text>
<text x="990.3" y="1760.2" font-size="45.62" font-weight="700" fill="#fff" textLength="74.15" lengthAdjust="spacingAndGlyphs" stroke="#fff" stroke-width="0.79" stroke-linejoin="round">XXL</text>
<text x="1130.1" y="1760.2" font-size="45.62" font-weight="700" fill="#fff" textLength="74.15" lengthAdjust="spacingAndGlyphs" stroke="#fff" stroke-width="0.79" stroke-linejoin="round">XXL</text>
<text x="563.8" y="1844.31" font-size="45.62" font-weight="700" fill="#fff" textLength="74.15" lengthAdjust="spacingAndGlyphs" stroke="#fff" stroke-width="0.79" stroke-linejoin="round">XXL</text>
<text x="705.6" y="1844.31" font-size="45.62" font-weight="700" fill="#fff" textLength="74.15" lengthAdjust="spacingAndGlyphs" stroke="#fff" stroke-width="0.79" stroke-linejoin="round">XXL</text>
<text x="848.4" y="1844.31" font-size="45.62" font-weight="700" fill="#fff" textLength="74.15" lengthAdjust="spacingAndGlyphs" stroke="#fff" stroke-width="0.79" stroke-linejoin="round">XXL</text>
<text x="990.3" y="1844.31" font-size="45.62" font-weight="700" fill="#fff" textLength="74.15" lengthAdjust="spacingAndGlyphs" stroke="#fff" stroke-width="0.79" stroke-linejoin="round">XXL</text>
<text x="563.8" y="1928.4" font-size="45.62" font-weight="700" fill="#fff" textLength="74.15" lengthAdjust="spacingAndGlyphs" stroke="#fff" stroke-width="0.79" stroke-linejoin="round">XXL</text>
<text x="705.6" y="1928.4" font-size="45.62" font-weight="700" fill="#fff" textLength="74.15" lengthAdjust="spacingAndGlyphs" stroke="#fff" stroke-width="0.79" stroke-linejoin="round">XXL</text>
<text x="848.4" y="1928.4" font-size="45.62" font-weight="700" fill="#fff" textLength="74.15" lengthAdjust="spacingAndGlyphs" stroke="#fff" stroke-width="0.79" stroke-linejoin="round">XXL</text>
<g fill="none" stroke="#1491d9" stroke-width="5"><ellipse cx="459" cy="1153.8" rx="43.7" ry="35.2"/><ellipse cx="316.7" cy="1407.8" rx="42.8" ry="35.7"/><ellipse cx="459.9" cy="1406.9" rx="43.4" ry="35.8"/><path d="M459.2 1191V1213.8M459.2 1237.4V1261M459.2 1284.5V1350" stroke-width="5.4"/><path d="M362 1407.7H374.6M386.2 1407.7H395" stroke-width="5.8"/></g>
<path d="M459.2 1368.5L450.3 1345.5L459.2 1351L468.1 1345.5z" fill="#1491d9"/>
<path d="M412.7 1407.7L387.7 1398.7L393.5 1407.7L387.7 1416.7z" fill="#1491d9"/>
<text x="1294.39" y="1848.9" font-size="36.3" font-weight="700" fill="#878b8f" textLength="571.3" lengthAdjust="spacingAndGlyphs">Example: The Medela size S results</text>
<text x="1296.08" y="1894.6" font-size="36.3" font-weight="700" fill="#878b8f" textLength="590.59" lengthAdjust="spacingAndGlyphs">from the underbust measurement of</text>
<text x="1295.58" y="1940.1" font-size="36.3" font-weight="700" fill="#878b8f" textLength="413.95" lengthAdjust="spacingAndGlyphs">80 cm and the cup size B.</text>
</svg>
</body></html>
